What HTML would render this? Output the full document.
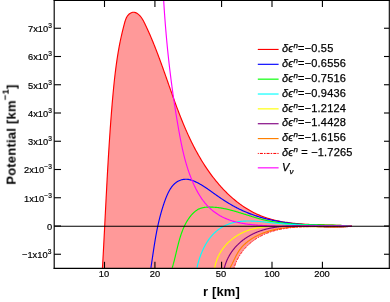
<!DOCTYPE html>
<html><head><meta charset="utf-8"><title>Potential</title>
<style>
html,body{margin:0;padding:0;background:#fff;}
body{width:390px;height:302px;position:relative;overflow:hidden;font-family:"Liberation Sans",sans-serif;color:#000;}
.t{position:absolute;white-space:nowrap;line-height:1;will-change:transform;}
.yl{font-size:9.3px;-webkit-text-stroke:0.2px #000;text-align:right;right:338.1px;}
.yl sup{font-size:6.6px;vertical-align:baseline;position:relative;top:-3.7px;letter-spacing:0;margin-left:0.2px;}
.xl{font-size:9.3px;-webkit-text-stroke:0.2px #000;transform:translateX(-50%);top:270.2px;margin-left:-0.4px;}
.lg{font-size:11px;left:281.9px;letter-spacing:0.2px;-webkit-text-stroke:0.25px #000;}
.lg i{font-style:italic;}
.lg sup{font-size:8px;font-style:italic;vertical-align:baseline;position:relative;top:-3.6px;}
.lg sub{font-size:8px;font-style:italic;vertical-align:baseline;position:relative;top:2.6px;}
.ax{font-weight:bold;font-size:13px;}
.ax sup{font-size:9.5px;vertical-align:baseline;position:relative;top:-7px;}
</style></head><body>
<svg width="390" height="302" viewBox="0 0 390 302" style="position:absolute;left:0;top:0">
<defs><clipPath id="c"><rect x="54.2" y="0.4" width="335.0" height="268.0"/></clipPath></defs>
<g clip-path="url(#c)" fill="none" stroke-linejoin="round">
<path d="M102.44,268.16 L102.53,266.66 L102.61,265.16 L102.70,263.67 L102.78,262.17 L102.87,260.67 L102.95,259.17 L103.03,257.67 L103.11,256.17 L103.20,254.67 L103.28,253.17 L103.36,251.67 L103.44,250.16 L103.52,248.66 L103.60,247.16 L103.68,245.66 L103.76,244.15 L103.84,242.65 L103.92,241.15 L104.00,239.64 L104.08,238.14 L104.16,236.64 L104.23,235.13 L104.31,233.63 L104.39,232.12 L104.47,230.62 L104.54,229.11 L104.62,227.61 L104.70,226.10 L104.77,224.60 L104.85,223.09 L104.93,221.58 L105.00,220.08 L105.08,218.57 L105.16,217.06 L105.23,215.56 L105.31,214.05 L105.39,212.54 L105.46,211.03 L105.54,209.53 L105.62,208.02 L105.70,206.51 L105.77,205.00 L105.85,203.50 L105.93,201.99 L106.00,200.48 L106.08,198.97 L106.16,197.46 L106.24,195.96 L106.32,194.45 L106.40,192.94 L106.48,191.43 L106.56,189.92 L106.63,188.41 L106.71,186.91 L106.80,185.40 L106.88,183.89 L106.96,182.38 L107.04,180.87 L107.12,179.36 L107.20,177.86 L107.29,176.35 L107.37,174.84 L107.45,173.33 L107.54,171.82 L107.62,170.32 L107.71,168.81 L107.79,167.30 L107.88,165.79 L107.97,164.28 L108.06,162.78 L108.14,161.27 L108.23,159.76 L108.32,158.26 L108.41,156.75 L108.50,155.24 L108.60,153.74 L108.69,152.23 L108.78,150.72 L108.88,149.22 L108.97,147.71 L109.07,146.21 L109.16,144.70 L109.26,143.20 L109.36,141.69 L109.46,140.19 L109.56,138.68 L109.66,137.18 L109.76,135.67 L109.86,134.17 L109.97,132.67 L110.07,131.16 L110.18,129.66 L110.28,128.16 L110.39,126.65 L110.50,125.15 L110.61,123.65 L110.72,122.15 L110.83,120.65 L110.95,119.15 L111.06,117.65 L111.18,116.15 L111.29,114.65 L111.41,113.15 L111.53,111.65 L111.65,110.15 L111.77,108.65 L111.89,107.16 L112.02,105.66 L112.14,104.16 L112.27,102.67 L112.40,101.17 L112.53,99.67 L112.66,98.18 L112.79,96.69 L112.92,95.19 L113.06,93.70 L113.20,92.20 L113.34,90.71 L113.48,89.22 L113.62,87.72 L113.77,86.23 L113.92,84.74 L114.08,83.25 L114.23,81.76 L114.39,80.27 L114.55,78.77 L114.72,77.28 L114.89,75.79 L115.07,74.30 L115.24,72.81 L115.43,71.32 L115.61,69.83 L115.80,68.34 L116.00,66.85 L116.20,65.36 L116.41,63.87 L116.62,62.38 L116.83,60.89 L117.05,59.39 L117.28,57.90 L117.51,56.41 L117.75,54.92 L118.00,53.43 L118.25,51.94 L118.51,50.45 L118.77,48.95 L119.04,47.46 L119.32,45.97 L119.60,44.48 L119.89,42.98 L120.19,41.49 L120.50,39.99 L120.81,38.50 L121.14,37.00 L121.46,35.51 L121.80,34.01 L122.15,32.52 L122.50,31.02 L122.87,29.52 L123.24,28.02 L123.62,26.53 L124.01,25.03 L124.41,23.53 L124.82,22.03 L125.28,20.57 L125.79,19.15 L126.38,17.79 L127.08,16.52 L127.90,15.36 L128.86,14.32 L129.99,13.43 L131.30,12.72 L132.72,12.28 L134.17,12.24 L135.58,12.62 L136.92,13.29 L138.14,14.12 L139.25,15.07 L140.26,16.11 L141.17,17.25 L142.01,18.46 L142.79,19.73 L143.52,21.04 L144.22,22.39 L144.89,23.76 L145.54,25.13 L146.19,26.51 L146.84,27.89 L147.47,29.27 L148.10,30.66 L148.72,32.05 L149.34,33.44 L149.95,34.83 L150.55,36.22 L151.15,37.62 L151.74,39.02 L152.32,40.42 L152.90,41.82 L153.47,43.23 L154.04,44.63 L154.61,46.04 L155.17,47.45 L155.72,48.86 L156.27,50.27 L156.82,51.68 L157.36,53.10 L157.90,54.51 L158.43,55.93 L158.96,57.35 L159.49,58.77 L160.01,60.19 L160.53,61.61 L161.05,63.03 L161.57,64.45 L162.08,65.87 L162.59,67.30 L163.10,68.72 L163.61,70.14 L164.12,71.57 L164.62,72.99 L165.12,74.42 L165.63,75.84 L166.13,77.27 L166.63,78.69 L167.13,80.12 L167.63,81.54 L168.12,82.97 L168.62,84.39 L169.12,85.82 L169.62,87.24 L170.12,88.66 L170.62,90.09 L171.13,91.51 L171.63,92.93 L172.13,94.35 L172.64,95.77 L173.15,97.19 L173.65,98.61 L174.17,100.02 L174.68,101.44 L175.19,102.85 L175.71,104.26 L176.23,105.68 L176.76,107.09 L177.28,108.49 L177.82,109.90 L178.35,111.31 L178.89,112.71 L179.43,114.11 L179.97,115.51 L180.52,116.91 L181.08,118.30 L181.63,119.70 L182.20,121.09 L182.77,122.48 L183.34,123.87 L183.92,125.25 L184.50,126.63 L185.09,128.01 L185.69,129.39 L186.29,130.76 L186.90,132.14 L187.51,133.50 L188.13,134.87 L188.76,136.23 L189.40,137.59 L190.04,138.95 L190.69,140.30 L191.34,141.66 L192.01,143.00 L192.68,144.35 L193.36,145.69 L194.05,147.02 L194.75,148.36 L195.45,149.69 L196.17,151.01 L196.89,152.33 L197.63,153.65 L198.37,154.97 L199.12,156.28 L199.88,157.58 L200.65,158.89 L201.43,160.18 L202.23,161.48 L203.03,162.77 L203.84,164.05 L204.66,165.33 L205.50,166.60 L206.34,167.87 L207.19,169.13 L208.06,170.38 L208.93,171.63 L209.81,172.87 L210.71,174.10 L211.62,175.32 L212.53,176.54 L213.46,177.75 L214.39,178.94 L215.34,180.13 L216.30,181.31 L217.27,182.48 L218.25,183.64 L219.24,184.79 L220.24,185.92 L221.25,187.05 L222.27,188.16 L223.30,189.27 L224.34,190.36 L225.39,191.43 L226.46,192.50 L227.53,193.55 L228.61,194.59 L229.71,195.61 L230.82,196.62 L231.93,197.61 L233.06,198.59 L234.20,199.56 L235.35,200.51 L236.51,201.44 L237.68,202.36 L238.86,203.26 L240.05,204.14 L241.25,205.01 L242.47,205.86 L243.69,206.69 L244.93,207.50 L246.17,208.29 L247.43,209.07 L248.70,209.83 L249.97,210.56 L251.26,211.28 L252.56,211.97 L253.88,212.65 L255.20,213.31 L256.53,213.94 L257.88,214.55 L259.23,215.14 L260.60,215.71 L261.98,216.26 L263.36,216.78 L264.76,217.28 L266.17,217.76 L267.59,218.21 L269.02,218.65 L270.46,219.07 L271.91,219.46 L273.37,219.84 L274.83,220.19 L276.30,220.53 L277.78,220.85 L279.27,221.16 L280.76,221.45 L282.26,221.72 L283.77,221.97 L285.28,222.21 L286.80,222.44 L288.32,222.65 L289.85,222.85 L291.38,223.03 L292.91,223.21 L294.45,223.37 L295.99,223.52 L297.53,223.66 L299.08,223.79 L300.62,223.91 L302.17,224.02 L303.72,224.12 L305.27,224.22 L306.82,224.30 L308.37,224.38 L309.92,224.46 L311.47,224.52 L313.02,224.59 L314.57,224.64 L316.11,224.70 L317.66,224.75 L319.20,224.79 L320.73,224.84 L322.27,224.88 L323.80,224.92 L325.32,224.96 L326.85,225.00 L328.36,225.04 L329.87,225.08 L331.38,225.12 L332.88,225.16 L334.37,225.21 L335.86,225.26 L337.34,225.31 L338.81,225.36 L340.28,225.42 L341.73,225.49 L343.18,225.56 L344.62,225.64 L346.05,225.72 L347.47,225.81 L348.88,225.91 L350.28,226.01 L351.67,226.13 L351.80,226.24 L351.49,226.26 L351.19,226.28 L350.88,226.30 L350.57,226.32 L350.27,226.34 L349.96,226.35 L349.65,226.37 L349.34,226.39 L349.03,226.40 L348.72,226.42 L348.40,226.43 L348.09,226.45 L347.78,226.46 L347.47,226.48 L347.15,226.49 L346.84,226.50 L346.52,226.51 L346.20,226.52 L345.89,226.54 L345.57,226.55 L345.25,226.56 L344.93,226.56 L344.61,226.57 L344.29,226.58 L343.97,226.59 L343.65,226.60 L343.33,226.60 L343.00,226.61 L342.68,226.62 L342.36,226.62 L342.03,226.63 L341.71,226.63 L341.38,226.64 L341.06,226.64 L340.73,226.65 L340.41,226.65 L340.08,226.65 L339.75,226.66 L339.42,226.66 L339.09,226.66 L338.76,226.66 L338.43,226.67 L338.10,226.67 L337.77,226.67 L337.44,226.67 L337.11,226.67 L336.78,226.67 L336.44,226.67 L336.11,226.67 L335.78,226.67 L335.44,226.67 L335.11,226.67 L334.77,226.67 L334.44,226.67 L334.10,226.66 L333.77,226.66 L333.43,226.66 L333.09,226.66 L332.76,226.66 L332.42,226.65 L332.08,226.65 L331.74,226.65 L331.40,226.65 L331.06,226.64 L330.72,226.64 L330.38,226.64 L330.04,226.63 L329.70,226.63 L329.36,226.63 L329.02,226.62 L328.68,226.62 L328.34,226.62 L327.99,226.61 L327.65,226.61 L327.31,226.60 L326.96,226.60 L326.62,226.60 L326.28,226.59 L325.93,226.59 L325.59,226.59 L325.24,226.58 L324.90,226.58 L324.55,226.57 L324.21,226.57 L323.86,226.57 L323.52,226.56 L323.17,226.56 L322.82,226.56 L322.48,226.55 L322.13,226.55 L321.78,226.55 L321.44,226.54 L321.09,226.54 L320.74,226.54 L320.39,226.54 L320.04,226.53 L319.70,226.53 L319.35,226.53 L319.00,226.53 L318.65,226.52 L318.30,226.52 L317.95,226.52 L317.60,226.52 L317.25,226.52 L316.90,226.52 L316.55,226.52 L316.20,226.52 L315.85,226.52 L315.50,226.52 L315.15,226.52 L314.80,226.52 L314.45,226.52 L314.10,226.52 L313.75,226.52 L313.40,226.52 L313.05,226.52 L312.70,226.53 L312.35,226.53 L312.00,226.53 L311.65,226.54 L311.30,226.54 L310.95,226.54 L310.60,226.55 L310.24,226.55 L309.89,226.56 L309.54,226.56 L309.19,226.57 L308.84,226.58 L308.49,226.58 L308.14,226.59 L307.79,226.60 L307.44,226.61 L307.08,226.61 L306.73,226.62 L306.38,226.63 L306.03,226.64 L305.68,226.65 L305.33,226.66 L304.98,226.68 L304.63,226.69 L304.28,226.70 L303.93,226.71 L303.58,226.73 L303.23,226.74 L302.88,226.75 L302.52,226.77 L302.17,226.78 L301.82,226.80 L301.47,226.82 L301.12,226.84 L300.78,226.85 L300.43,226.87 L300.08,226.89 L299.73,226.91 L299.38,226.93 L299.03,226.95 L298.68,226.97 L298.33,227.00 L297.98,227.02 L297.63,227.04 L297.29,227.07 L296.94,227.09 L296.59,227.12 L296.24,227.14 L295.90,227.17 L295.55,227.20 L295.20,227.23 L294.85,227.26 L294.51,227.29 L294.16,227.32 L293.82,227.35 L293.47,227.38 L293.12,227.42 L292.78,227.45 L292.43,227.48 L292.09,227.52 L291.74,227.56 L291.40,227.59 L291.06,227.63 L290.71,227.67 L290.37,227.71 L290.03,227.75 L289.68,227.79 L289.34,227.83 L289.00,227.88 L288.66,227.92 L288.31,227.97 L287.97,228.01 L287.63,228.06 L287.29,228.11 L286.95,228.16 L286.61,228.20 L286.27,228.26 L285.93,228.31 L285.60,228.36 L285.26,228.41 L284.92,228.47 L284.58,228.52 L284.24,228.58 L283.91,228.64 L283.57,228.69 L283.24,228.75 L282.90,228.81 L282.56,228.87 L282.23,228.94 L281.90,229.00 L281.56,229.07 L281.23,229.13 L280.90,229.20 L280.56,229.26 L280.23,229.33 L279.90,229.40 L279.57,229.47 L279.24,229.55 L278.91,229.62 L278.58,229.69 L278.25,229.77 L277.92,229.85 L277.59,229.92 L277.26,230.00 L276.94,230.08 L276.61,230.17 L276.29,230.25 L275.96,230.33 L275.63,230.42 L275.31,230.50 L274.99,230.59 L274.66,230.68 L274.34,230.77 L274.02,230.86 L273.70,230.95 L273.38,231.05 L273.06,231.14 L272.74,231.24 L272.42,231.33 L272.10,231.43 L271.78,231.53 L271.46,231.63 L271.15,231.74 L270.83,231.84 L270.51,231.95 L270.20,232.05 L269.89,232.16 L269.57,232.27 L269.26,232.38 L268.95,232.49 L268.64,232.61 L268.32,232.72 L268.01,232.84 L267.70,232.96 L267.40,233.08 L267.09,233.20 L266.78,233.32 L266.47,233.44 L266.17,233.57 L265.86,233.69 L265.56,233.82 L265.25,233.95 L264.95,234.08 L264.65,234.22 L264.35,234.35 L264.04,234.48 L263.74,234.62 L263.45,234.76 L263.15,234.90 L262.85,235.04 L262.55,235.19 L262.26,235.33 L261.96,235.48 L261.67,235.62 L261.37,235.77 L261.08,235.92 L260.79,236.08 L260.49,236.23 L260.20,236.39 L259.91,236.54 L259.63,236.70 L259.34,236.86 L259.05,237.03 L258.76,237.19 L258.48,237.36 L258.19,237.52 L257.91,237.69 L257.63,237.86 L257.34,238.04 L257.06,238.21 L256.78,238.39 L256.50,238.56 L256.22,238.74 L255.95,238.92 L255.67,239.11 L255.40,239.29 L255.12,239.48 L254.85,239.67 L254.57,239.85 L254.30,240.05 L254.03,240.24 L253.76,240.43 L253.49,240.63 L253.23,240.83 L252.96,241.03 L252.69,241.23 L252.43,241.43 L252.17,241.63 L251.91,241.84 L251.64,242.05 L251.39,242.26 L251.13,242.47 L250.87,242.68 L250.61,242.89 L250.36,243.11 L250.10,243.33 L249.85,243.55 L249.60,243.77 L249.35,243.99 L249.10,244.21 L248.85,244.44 L248.61,244.67 L248.36,244.90 L248.12,245.13 L247.88,245.36 L247.64,245.59 L247.40,245.83 L247.16,246.06 L246.92,246.30 L246.69,246.54 L246.45,246.78 L246.22,247.03 L245.99,247.27 L245.76,247.52 L245.53,247.77 L245.30,248.01 L245.08,248.27 L244.85,248.52 L244.63,248.77 L244.41,249.03 L244.19,249.28 L243.97,249.54 L243.76,249.80 L243.54,250.07 L243.33,250.33 L243.12,250.59 L242.91,250.86 L242.70,251.13 L242.49,251.40 L242.29,251.67 L242.08,251.94 L241.88,252.22 L241.68,252.49 L241.48,252.77 L241.28,253.05 L241.09,253.33 L240.89,253.61 L240.70,253.89 L240.51,254.18 L240.32,254.46 L240.14,254.75 L239.95,255.04 L239.77,255.33 L239.59,255.63 L239.41,255.92 L239.23,256.21 L239.05,256.51 L238.88,256.81 L238.71,257.11 L238.54,257.41 L238.37,257.71 L238.20,258.02 L238.04,258.32 L237.88,258.63 L237.71,258.94 L237.56,259.25 L237.40,259.56 L237.24,259.87 L237.09,260.19 L236.94,260.50 L236.79,260.82 L236.64,261.14 L236.50,261.46 L236.36,261.78 L236.22,262.10 L236.08,262.43 L235.94,262.75 L235.81,263.08 L235.67,263.41 L235.54,263.74 L235.41,264.07 L235.29,264.41 L235.16,264.74 L235.04,265.08 L234.92,265.41 L234.81,265.75 L234.69,266.09 L234.58,266.43 L234.47,266.78 L234.36,267.12 L234.25,267.47 L234.15,267.81 L234.05,268.16Z" fill="#ff9999" stroke="none"/>
<path d="M102.44,268.16 L102.53,266.66 L102.61,265.16 L102.70,263.67 L102.78,262.17 L102.87,260.67 L102.95,259.17 L103.03,257.67 L103.11,256.17 L103.20,254.67 L103.28,253.17 L103.36,251.67 L103.44,250.16 L103.52,248.66 L103.60,247.16 L103.68,245.66 L103.76,244.15 L103.84,242.65 L103.92,241.15 L104.00,239.64 L104.08,238.14 L104.16,236.64 L104.23,235.13 L104.31,233.63 L104.39,232.12 L104.47,230.62 L104.54,229.11 L104.62,227.61 L104.70,226.10 L104.77,224.60 L104.85,223.09 L104.93,221.58 L105.00,220.08 L105.08,218.57 L105.16,217.06 L105.23,215.56 L105.31,214.05 L105.39,212.54 L105.46,211.03 L105.54,209.53 L105.62,208.02 L105.70,206.51 L105.77,205.00 L105.85,203.50 L105.93,201.99 L106.00,200.48 L106.08,198.97 L106.16,197.46 L106.24,195.96 L106.32,194.45 L106.40,192.94 L106.48,191.43 L106.56,189.92 L106.63,188.41 L106.71,186.91 L106.80,185.40 L106.88,183.89 L106.96,182.38 L107.04,180.87 L107.12,179.36 L107.20,177.86 L107.29,176.35 L107.37,174.84 L107.45,173.33 L107.54,171.82 L107.62,170.32 L107.71,168.81 L107.79,167.30 L107.88,165.79 L107.97,164.28 L108.06,162.78 L108.14,161.27 L108.23,159.76 L108.32,158.26 L108.41,156.75 L108.50,155.24 L108.60,153.74 L108.69,152.23 L108.78,150.72 L108.88,149.22 L108.97,147.71 L109.07,146.21 L109.16,144.70 L109.26,143.20 L109.36,141.69 L109.46,140.19 L109.56,138.68 L109.66,137.18 L109.76,135.67 L109.86,134.17 L109.97,132.67 L110.07,131.16 L110.18,129.66 L110.28,128.16 L110.39,126.65 L110.50,125.15 L110.61,123.65 L110.72,122.15 L110.83,120.65 L110.95,119.15 L111.06,117.65 L111.18,116.15 L111.29,114.65 L111.41,113.15 L111.53,111.65 L111.65,110.15 L111.77,108.65 L111.89,107.16 L112.02,105.66 L112.14,104.16 L112.27,102.67 L112.40,101.17 L112.53,99.67 L112.66,98.18 L112.79,96.69 L112.92,95.19 L113.06,93.70 L113.20,92.20 L113.34,90.71 L113.48,89.22 L113.62,87.72 L113.77,86.23 L113.92,84.74 L114.08,83.25 L114.23,81.76 L114.39,80.27 L114.55,78.77 L114.72,77.28 L114.89,75.79 L115.07,74.30 L115.24,72.81 L115.43,71.32 L115.61,69.83 L115.80,68.34 L116.00,66.85 L116.20,65.36 L116.41,63.87 L116.62,62.38 L116.83,60.89 L117.05,59.39 L117.28,57.90 L117.51,56.41 L117.75,54.92 L118.00,53.43 L118.25,51.94 L118.51,50.45 L118.77,48.95 L119.04,47.46 L119.32,45.97 L119.60,44.48 L119.89,42.98 L120.19,41.49 L120.50,39.99 L120.81,38.50 L121.14,37.00 L121.46,35.51 L121.80,34.01 L122.15,32.52 L122.50,31.02 L122.87,29.52 L123.24,28.02 L123.62,26.53 L124.01,25.03 L124.41,23.53 L124.82,22.03 L125.28,20.57 L125.79,19.15 L126.38,17.79 L127.08,16.52 L127.90,15.36 L128.86,14.32 L129.99,13.43 L131.30,12.72 L132.72,12.28 L134.17,12.24 L135.58,12.62 L136.92,13.29 L138.14,14.12 L139.25,15.07 L140.26,16.11 L141.17,17.25 L142.01,18.46 L142.79,19.73 L143.52,21.04 L144.22,22.39 L144.89,23.76 L145.54,25.13 L146.19,26.51 L146.84,27.89 L147.47,29.27 L148.10,30.66 L148.72,32.05 L149.34,33.44 L149.95,34.83 L150.55,36.22 L151.15,37.62 L151.74,39.02 L152.32,40.42 L152.90,41.82 L153.47,43.23 L154.04,44.63 L154.61,46.04 L155.17,47.45 L155.72,48.86 L156.27,50.27 L156.82,51.68 L157.36,53.10 L157.90,54.51 L158.43,55.93 L158.96,57.35 L159.49,58.77 L160.01,60.19 L160.53,61.61 L161.05,63.03 L161.57,64.45 L162.08,65.87 L162.59,67.30 L163.10,68.72 L163.61,70.14 L164.12,71.57 L164.62,72.99 L165.12,74.42 L165.63,75.84 L166.13,77.27 L166.63,78.69 L167.13,80.12 L167.63,81.54 L168.12,82.97 L168.62,84.39 L169.12,85.82 L169.62,87.24 L170.12,88.66 L170.62,90.09 L171.13,91.51 L171.63,92.93 L172.13,94.35 L172.64,95.77 L173.15,97.19 L173.65,98.61 L174.17,100.02 L174.68,101.44 L175.19,102.85 L175.71,104.26 L176.23,105.68 L176.76,107.09 L177.28,108.49 L177.82,109.90 L178.35,111.31 L178.89,112.71 L179.43,114.11 L179.97,115.51 L180.52,116.91 L181.08,118.30 L181.63,119.70 L182.20,121.09 L182.77,122.48 L183.34,123.87 L183.92,125.25 L184.50,126.63 L185.09,128.01 L185.69,129.39 L186.29,130.76 L186.90,132.14 L187.51,133.50 L188.13,134.87 L188.76,136.23 L189.40,137.59 L190.04,138.95 L190.69,140.30 L191.34,141.66 L192.01,143.00 L192.68,144.35 L193.36,145.69 L194.05,147.02 L194.75,148.36 L195.45,149.69 L196.17,151.01 L196.89,152.33 L197.63,153.65 L198.37,154.97 L199.12,156.28 L199.88,157.58 L200.65,158.89 L201.43,160.18 L202.23,161.48 L203.03,162.77 L203.84,164.05 L204.66,165.33 L205.50,166.60 L206.34,167.87 L207.19,169.13 L208.06,170.38 L208.93,171.63 L209.81,172.87 L210.71,174.10 L211.62,175.32 L212.53,176.54 L213.46,177.75 L214.39,178.94 L215.34,180.13 L216.30,181.31 L217.27,182.48 L218.25,183.64 L219.24,184.79 L220.24,185.92 L221.25,187.05 L222.27,188.16 L223.30,189.27 L224.34,190.36 L225.39,191.43 L226.46,192.50 L227.53,193.55 L228.61,194.59 L229.71,195.61 L230.82,196.62 L231.93,197.61 L233.06,198.59 L234.20,199.56 L235.35,200.51 L236.51,201.44 L237.68,202.36 L238.86,203.26 L240.05,204.14 L241.25,205.01 L242.47,205.86 L243.69,206.69 L244.93,207.50 L246.17,208.29 L247.43,209.07 L248.70,209.83 L249.97,210.56 L251.26,211.28 L252.56,211.97 L253.88,212.65 L255.20,213.31 L256.53,213.94 L257.88,214.55 L259.23,215.14 L260.60,215.71 L261.98,216.26 L263.36,216.78 L264.76,217.28 L266.17,217.76 L267.59,218.21 L269.02,218.65 L270.46,219.07 L271.91,219.46 L273.37,219.84 L274.83,220.19 L276.30,220.53 L277.78,220.85 L279.27,221.16 L280.76,221.45 L282.26,221.72 L283.77,221.97 L285.28,222.21 L286.80,222.44 L288.32,222.65 L289.85,222.85 L291.38,223.03 L292.91,223.21 L294.45,223.37 L295.99,223.52 L297.53,223.66 L299.08,223.79 L300.62,223.91 L302.17,224.02 L303.72,224.12 L305.27,224.22 L306.82,224.30 L308.37,224.38 L309.92,224.46 L311.47,224.52 L313.02,224.59 L314.57,224.64 L316.11,224.70 L317.66,224.75 L319.20,224.79 L320.73,224.84 L322.27,224.88 L323.80,224.92 L325.32,224.96 L326.85,225.00 L328.36,225.04 L329.87,225.08 L331.38,225.12 L332.88,225.16 L334.37,225.21 L335.86,225.26 L337.34,225.31 L338.81,225.36 L340.28,225.42 L341.73,225.49 L343.18,225.56 L344.62,225.64 L346.05,225.72 L347.47,225.81 L348.88,225.91 L350.28,226.01 L351.67,226.13" stroke="#ff0000" stroke-width="1.15"/>
<path d="M150.91,267.89 L151.02,267.17 L151.13,266.45 L151.24,265.73 L151.34,265.02 L151.45,264.31 L151.56,263.60 L151.66,262.89 L151.77,262.18 L151.87,261.48 L151.98,260.77 L152.08,260.07 L152.18,259.37 L152.29,258.67 L152.39,257.97 L152.49,257.27 L152.60,256.58 L152.70,255.88 L152.80,255.19 L152.90,254.50 L153.01,253.81 L153.11,253.12 L153.21,252.43 L153.31,251.74 L153.42,251.05 L153.52,250.37 L153.62,249.68 L153.73,249.00 L153.83,248.32 L153.94,247.64 L154.04,246.96 L154.15,246.28 L154.25,245.60 L154.36,244.92 L154.47,244.24 L154.58,243.57 L154.68,242.89 L154.79,242.22 L154.90,241.54 L155.02,240.87 L155.13,240.20 L155.24,239.52 L155.36,238.85 L155.47,238.18 L155.59,237.51 L155.70,236.84 L155.82,236.17 L155.94,235.50 L156.06,234.83 L156.19,234.16 L156.31,233.49 L156.44,232.82 L156.56,232.15 L156.69,231.48 L156.82,230.82 L156.95,230.15 L157.09,229.48 L157.22,228.81 L157.36,228.14 L157.50,227.48 L157.64,226.81 L157.78,226.14 L157.92,225.47 L158.07,224.80 L158.22,224.14 L158.37,223.47 L158.52,222.80 L158.68,222.13 L158.83,221.46 L158.99,220.79 L159.15,220.12 L159.32,219.45 L159.48,218.78 L159.65,218.11 L159.82,217.44 L160.00,216.76 L160.17,216.09 L160.35,215.42 L160.53,214.74 L160.72,214.07 L160.90,213.40 L161.09,212.72 L161.28,212.04 L161.48,211.37 L161.68,210.69 L161.88,210.01 L162.08,209.33 L162.29,208.65 L162.50,207.97 L162.71,207.28 L162.93,206.60 L163.15,205.92 L163.37,205.23 L163.60,204.54 L163.83,203.86 L164.06,203.17 L164.30,202.48 L164.54,201.79 L164.79,201.10 L165.03,200.40 L165.29,199.71 L165.54,199.02 L165.81,198.33 L166.07,197.65 L166.35,196.96 L166.62,196.29 L166.91,195.61 L167.20,194.94 L167.50,194.27 L167.80,193.62 L168.11,192.96 L168.43,192.32 L168.76,191.68 L169.10,191.05 L169.44,190.43 L169.79,189.83 L170.15,189.23 L170.52,188.64 L170.90,188.06 L171.29,187.50 L171.70,186.95 L172.11,186.41 L172.53,185.89 L172.96,185.38 L173.40,184.89 L173.86,184.41 L174.33,183.96 L174.81,183.51 L175.30,183.09 L175.81,182.68 L176.32,182.30 L176.86,181.93 L177.40,181.59 L177.96,181.26 L178.53,180.96 L179.12,180.68 L179.73,180.42 L180.34,180.19 L180.98,179.98 L181.62,179.80 L182.28,179.64 L182.94,179.50 L183.62,179.40 L184.30,179.32 L184.98,179.26 L185.67,179.24 L186.36,179.24 L187.06,179.28 L187.75,179.34 L188.44,179.44 L189.12,179.56 L189.81,179.71 L190.48,179.88 L191.16,180.08 L191.83,180.29 L192.50,180.53 L193.16,180.77 L193.82,181.04 L194.47,181.31 L195.12,181.60 L195.76,181.89 L196.39,182.19 L197.02,182.50 L197.65,182.81 L198.27,183.13 L198.88,183.46 L199.49,183.79 L200.10,184.13 L200.70,184.48 L201.30,184.83 L201.90,185.18 L202.49,185.54 L203.08,185.91 L203.66,186.28 L204.24,186.65 L204.82,187.03 L205.40,187.41 L205.97,187.80 L206.55,188.18 L207.12,188.58 L207.69,188.97 L208.26,189.37 L208.82,189.76 L209.39,190.17 L209.96,190.57 L210.52,190.97 L211.09,191.38 L211.65,191.78 L212.21,192.19 L212.78,192.60 L213.34,193.00 L213.91,193.41 L214.48,193.82 L215.04,194.22 L215.61,194.63 L216.18,195.03 L216.76,195.43 L217.33,195.84 L217.91,196.24 L218.48,196.64 L219.06,197.03 L219.64,197.43 L220.22,197.83 L220.80,198.22 L221.39,198.61 L221.97,199.00 L222.56,199.39 L223.15,199.77 L223.74,200.16 L224.33,200.54 L224.92,200.92 L225.52,201.30 L226.11,201.67 L226.71,202.04 L227.31,202.41 L227.91,202.78 L228.51,203.15 L229.11,203.51 L229.71,203.87 L230.32,204.23 L230.93,204.58 L231.53,204.93 L232.14,205.28 L232.75,205.63 L233.37,205.97 L233.98,206.31 L234.59,206.64 L235.21,206.97 L235.83,207.30 L236.45,207.63 L237.07,207.95 L237.69,208.27 L238.31,208.58 L238.93,208.89 L239.56,209.20 L240.19,209.50 L240.81,209.80 L241.44,210.10 L242.07,210.39 L242.70,210.68 L243.34,210.96 L243.97,211.24 L244.61,211.52 L245.24,211.79 L245.88,212.06 L246.52,212.33 L247.16,212.59 L247.80,212.85 L248.44,213.10 L249.09,213.36 L249.73,213.61 L250.38,213.85 L251.02,214.09 L251.67,214.33 L252.32,214.57 L252.97,214.80 L253.62,215.03 L254.27,215.25 L254.92,215.48 L255.58,215.70 L256.23,215.91 L256.89,216.12 L257.54,216.33 L258.20,216.54 L258.86,216.74 L259.52,216.94 L260.18,217.14 L260.84,217.34 L261.51,217.53 L262.17,217.72 L262.83,217.90 L263.50,218.08 L264.16,218.26 L264.83,218.44 L265.50,218.61 L266.17,218.78 L266.84,218.95 L267.51,219.12 L268.18,219.28 L268.85,219.44 L269.52,219.60 L270.20,219.75 L270.87,219.91 L271.54,220.05 L272.22,220.20 L272.90,220.35 L273.57,220.49 L274.25,220.63 L274.93,220.76 L275.61,220.90 L276.29,221.03 L276.97,221.16 L277.65,221.28 L278.33,221.41 L279.01,221.53 L279.70,221.65 L280.38,221.77 L281.06,221.88 L281.75,221.99 L282.43,222.11 L283.12,222.21 L283.80,222.32 L284.49,222.42 L285.18,222.53 L285.87,222.63 L286.55,222.72 L287.24,222.82 L287.93,222.91 L288.62,223.00 L289.31,223.09 L290.00,223.18 L290.69,223.26 L291.39,223.35 L292.08,223.43 L292.77,223.51 L293.46,223.59 L294.16,223.66 L294.85,223.74 L295.54,223.81 L296.24,223.88 L296.93,223.95 L297.63,224.02 L298.32,224.08 L299.02,224.15 L299.71,224.21 L300.41,224.27 L301.11,224.33 L301.80,224.38 L302.50,224.44 L303.20,224.49 L303.89,224.55 L304.59,224.60 L305.29,224.65 L305.99,224.70 L306.68,224.74 L307.38,224.79 L308.08,224.83 L308.78,224.88 L309.48,224.92 L310.18,224.96 L310.87,225.00 L311.57,225.04 L312.27,225.07 L312.97,225.11 L313.67,225.14 L314.37,225.17 L315.07,225.21 L315.77,225.24 L316.47,225.27 L317.17,225.30 L317.87,225.32 L318.57,225.35 L319.26,225.38 L319.96,225.40 L320.66,225.43 L321.36,225.45 L322.06,225.47 L322.76,225.49 L323.46,225.51 L324.16,225.53 L324.86,225.55 L325.55,225.57 L326.25,225.59 L326.95,225.60 L327.65,225.62 L328.35,225.63 L329.04,225.65 L329.74,225.66 L330.44,225.68 L331.14,225.69 L331.83,225.70 L332.53,225.71 L333.23,225.73 L333.92,225.74 L334.62,225.75 L335.31,225.76 L336.01,225.77 L336.70,225.78 L337.40,225.78 L338.09,225.79 L338.79,225.80 L339.48,225.81 L340.18,225.82 L340.87,225.83 L341.56,225.83 L342.25,225.84 L342.94,225.85 L343.64,225.85 L344.33,225.86 L345.02,225.87 L345.71,225.87 L346.40,225.88 L347.09,225.89 L347.78,225.89 L348.46,225.90 L349.15,225.91 L349.84,225.91 L350.52,225.92 L351.21,225.93 L351.90,225.94" stroke="#0000ff" stroke-width="1.15"/>
<path d="M172.23,267.72 L172.38,267.22 L172.54,266.72 L172.69,266.22 L172.84,265.72 L172.99,265.22 L173.13,264.71 L173.28,264.20 L173.42,263.68 L173.57,263.17 L173.71,262.65 L173.85,262.13 L173.98,261.61 L174.12,261.09 L174.26,260.56 L174.39,260.03 L174.53,259.50 L174.66,258.97 L174.79,258.44 L174.92,257.90 L175.05,257.37 L175.18,256.83 L175.31,256.29 L175.44,255.75 L175.57,255.21 L175.70,254.67 L175.83,254.12 L175.96,253.58 L176.09,253.03 L176.22,252.48 L176.35,251.94 L176.48,251.39 L176.61,250.84 L176.74,250.29 L176.87,249.74 L177.01,249.19 L177.14,248.63 L177.27,248.08 L177.41,247.53 L177.54,246.98 L177.68,246.43 L177.82,245.87 L177.96,245.32 L178.10,244.77 L178.24,244.22 L178.38,243.66 L178.52,243.11 L178.67,242.56 L178.82,242.01 L178.97,241.46 L179.12,240.91 L179.27,240.36 L179.43,239.81 L179.59,239.26 L179.75,238.71 L179.91,238.17 L180.07,237.62 L180.24,237.08 L180.41,236.54 L180.58,235.99 L180.76,235.45 L180.93,234.91 L181.11,234.38 L181.30,233.84 L181.48,233.30 L181.67,232.77 L181.86,232.24 L182.06,231.71 L182.26,231.18 L182.46,230.65 L182.67,230.13 L182.88,229.61 L183.09,229.09 L183.31,228.57 L183.53,228.05 L183.75,227.54 L183.98,227.03 L184.22,226.52 L184.45,226.01 L184.69,225.51 L184.94,225.01 L185.19,224.51 L185.44,224.02 L185.70,223.52 L185.97,223.03 L186.24,222.55 L186.51,222.06 L186.79,221.58 L187.07,221.11 L187.36,220.63 L187.65,220.16 L187.95,219.69 L188.25,219.23 L188.56,218.77 L188.88,218.31 L189.20,217.86 L189.52,217.41 L189.86,216.97 L190.19,216.53 L190.54,216.09 L190.89,215.66 L191.24,215.24 L191.60,214.82 L191.97,214.41 L192.34,214.00 L192.72,213.61 L193.11,213.22 L193.50,212.84 L193.90,212.47 L194.30,212.10 L194.71,211.75 L195.13,211.41 L195.55,211.08 L195.98,210.76 L196.42,210.45 L196.86,210.16 L197.31,209.87 L197.77,209.60 L198.23,209.35 L198.70,209.10 L199.18,208.88 L199.66,208.66 L200.15,208.46 L200.65,208.28 L201.15,208.11 L201.67,207.96 L202.18,207.83 L202.71,207.70 L203.24,207.59 L203.77,207.49 L204.31,207.41 L204.85,207.33 L205.39,207.27 L205.94,207.22 L206.49,207.17 L207.04,207.14 L207.59,207.11 L208.15,207.09 L208.70,207.08 L209.26,207.07 L209.81,207.07 L210.37,207.07 L210.92,207.08 L211.47,207.10 L212.02,207.11 L212.58,207.14 L213.13,207.17 L213.68,207.20 L214.23,207.24 L214.78,207.28 L215.33,207.32 L215.88,207.37 L216.43,207.43 L216.97,207.49 L217.52,207.55 L218.07,207.61 L218.62,207.69 L219.16,207.76 L219.71,207.84 L220.25,207.92 L220.80,208.00 L221.34,208.09 L221.89,208.19 L222.43,208.28 L222.98,208.38 L223.52,208.48 L224.06,208.59 L224.61,208.70 L225.15,208.81 L225.69,208.92 L226.23,209.04 L226.77,209.16 L227.31,209.29 L227.85,209.41 L228.40,209.54 L228.94,209.67 L229.48,209.80 L230.02,209.94 L230.55,210.08 L231.09,210.22 L231.63,210.36 L232.17,210.50 L232.71,210.65 L233.25,210.80 L233.79,210.95 L234.33,211.10 L234.86,211.25 L235.40,211.40 L235.94,211.56 L236.48,211.72 L237.01,211.88 L237.55,212.04 L238.09,212.20 L238.63,212.36 L239.16,212.52 L239.70,212.69 L240.24,212.85 L240.77,213.02 L241.31,213.19 L241.85,213.35 L242.38,213.52 L242.92,213.69 L243.46,213.86 L243.99,214.03 L244.53,214.20 L245.07,214.37 L245.60,214.54 L246.14,214.71 L246.67,214.88 L247.21,215.05 L247.75,215.22 L248.28,215.39 L248.82,215.56 L249.36,215.73 L249.90,215.90 L250.43,216.07 L250.97,216.23 L251.51,216.40 L252.04,216.57 L252.58,216.73 L253.12,216.89 L253.66,217.06 L254.19,217.22 L254.73,217.38 L255.27,217.54 L255.81,217.70 L256.35,217.86 L256.89,218.01 L257.43,218.17 L257.96,218.32 L258.50,218.47 L259.04,218.62 L259.58,218.76 L260.12,218.91 L260.66,219.05 L261.20,219.19 L261.75,219.33 L262.29,219.47 L262.83,219.60 L263.37,219.74 L263.91,219.87 L264.45,219.99 L265.00,220.12 L265.54,220.24 L266.08,220.36 L266.63,220.48 L267.17,220.60 L267.71,220.71 L268.26,220.82 L268.80,220.93 L269.35,221.04 L269.89,221.15 L270.44,221.25 L270.99,221.35 L271.53,221.45 L272.08,221.55 L272.62,221.64 L273.17,221.73 L273.72,221.83 L274.27,221.91 L274.81,222.00 L275.36,222.09 L275.91,222.17 L276.46,222.25 L277.01,222.33 L277.55,222.41 L278.10,222.49 L278.65,222.56 L279.20,222.64 L279.75,222.71 L280.30,222.78 L280.85,222.84 L281.40,222.91 L281.95,222.98 L282.50,223.04 L283.05,223.10 L283.60,223.16 L284.15,223.22 L284.71,223.28 L285.26,223.33 L285.81,223.39 L286.36,223.44 L286.91,223.49 L287.46,223.54 L288.02,223.59 L288.57,223.64 L289.12,223.68 L289.68,223.73 L290.23,223.77 L290.78,223.81 L291.34,223.85 L291.89,223.89 L292.44,223.93 L293.00,223.97 L293.55,224.00 L294.10,224.04 L294.66,224.07 L295.21,224.11 L295.77,224.14 L296.32,224.17 L296.88,224.20 L297.43,224.23 L297.99,224.26 L298.54,224.28 L299.10,224.31 L299.65,224.34 L300.21,224.36 L300.76,224.38 L301.32,224.41 L301.87,224.43 L302.43,224.45 L302.99,224.47 L303.54,224.49 L304.10,224.51 L304.65,224.53 L305.21,224.55 L305.77,224.56 L306.32,224.58 L306.88,224.60 L307.44,224.61 L307.99,224.63 L308.55,224.64 L309.10,224.66 L309.66,224.67 L310.22,224.68 L310.78,224.70 L311.33,224.71 L311.89,224.72 L312.45,224.73 L313.00,224.74 L313.56,224.75 L314.12,224.77 L314.67,224.78 L315.23,224.79 L315.79,224.80 L316.34,224.81 L316.90,224.82 L317.46,224.83 L318.02,224.83 L318.57,224.84 L319.13,224.85 L319.69,224.86 L320.24,224.87 L320.80,224.88 L321.36,224.89 L321.92,224.90 L322.47,224.91 L323.03,224.92 L323.59,224.93 L324.14,224.94 L324.70,224.95 L325.26,224.96 L325.82,224.97 L326.37,224.98 L326.93,224.99 L327.49,225.00 L328.04,225.01 L328.60,225.02 L329.16,225.03 L329.71,225.05 L330.27,225.06 L330.83,225.07 L331.38,225.09 L331.94,225.10 L332.49,225.11 L333.05,225.13 L333.61,225.14 L334.16,225.16 L334.72,225.18 L335.27,225.19 L335.83,225.21 L336.39,225.23 L336.94,225.25 L337.50,225.27 L338.05,225.29 L338.61,225.31 L339.16,225.33 L339.72,225.35 L340.27,225.38 L340.83,225.40 L341.38,225.43 L341.94,225.45 L342.49,225.48 L343.05,225.51 L343.60,225.54 L344.16,225.57 L344.71,225.60 L345.26,225.63 L345.82,225.66 L346.37,225.70 L346.92,225.73 L347.48,225.77 L348.03,225.80 L348.58,225.84 L349.14,225.88 L349.69,225.92 L350.24,225.96 L350.79,226.01 L351.35,226.05 L351.90,226.10" stroke="#00ff00" stroke-width="1.15"/>
<path d="M196.92,267.84 L197.02,267.43 L197.11,267.01 L197.21,266.59 L197.31,266.17 L197.41,265.75 L197.52,265.33 L197.62,264.91 L197.73,264.48 L197.84,264.06 L197.96,263.63 L198.07,263.21 L198.19,262.78 L198.31,262.35 L198.43,261.92 L198.56,261.49 L198.69,261.06 L198.82,260.63 L198.95,260.20 L199.08,259.76 L199.22,259.33 L199.36,258.90 L199.50,258.47 L199.65,258.03 L199.79,257.60 L199.94,257.17 L200.10,256.73 L200.25,256.30 L200.41,255.87 L200.57,255.44 L200.73,255.00 L200.89,254.57 L201.06,254.14 L201.23,253.71 L201.40,253.28 L201.58,252.85 L201.75,252.42 L201.93,251.99 L202.12,251.57 L202.30,251.14 L202.49,250.71 L202.68,250.29 L202.87,249.87 L203.07,249.44 L203.27,249.02 L203.47,248.60 L203.67,248.18 L203.88,247.77 L204.09,247.35 L204.30,246.94 L204.51,246.52 L204.73,246.11 L204.95,245.70 L205.17,245.29 L205.40,244.89 L205.63,244.48 L205.86,244.08 L206.09,243.68 L206.33,243.28 L206.57,242.89 L206.81,242.49 L207.06,242.10 L207.30,241.71 L207.56,241.33 L207.81,240.94 L208.07,240.56 L208.33,240.18 L208.59,239.80 L208.85,239.43 L209.12,239.06 L209.39,238.69 L209.67,238.33 L209.94,237.96 L210.22,237.60 L210.51,237.25 L210.79,236.89 L211.08,236.54 L211.37,236.20 L211.67,235.85 L211.97,235.51 L212.27,235.18 L212.57,234.84 L212.88,234.51 L213.19,234.19 L213.50,233.87 L213.82,233.55 L214.14,233.23 L214.46,232.92 L214.79,232.62 L215.12,232.31 L215.45,232.01 L215.78,231.72 L216.12,231.43 L216.46,231.14 L216.80,230.86 L217.15,230.58 L217.49,230.30 L217.84,230.03 L218.20,229.76 L218.55,229.50 L218.91,229.24 L219.27,228.99 L219.64,228.73 L220.00,228.49 L220.37,228.24 L220.74,228.00 L221.11,227.77 L221.49,227.54 L221.86,227.31 L222.24,227.09 L222.62,226.87 L223.01,226.66 L223.39,226.45 L223.78,226.24 L224.17,226.04 L224.56,225.84 L224.95,225.65 L225.35,225.46 L225.74,225.28 L226.14,225.10 L226.54,224.92 L226.94,224.75 L227.35,224.58 L227.75,224.42 L228.16,224.26 L228.56,224.11 L228.97,223.96 L229.38,223.81 L229.80,223.67 L230.21,223.54 L230.62,223.40 L231.04,223.28 L231.46,223.15 L231.88,223.03 L232.30,222.92 L232.72,222.80 L233.14,222.70 L233.56,222.59 L233.99,222.49 L234.42,222.40 L234.84,222.30 L235.27,222.21 L235.70,222.13 L236.13,222.05 L236.56,221.97 L237.00,221.89 L237.43,221.82 L237.87,221.75 L238.30,221.69 L238.74,221.63 L239.18,221.57 L239.62,221.52 L240.06,221.46 L240.50,221.42 L240.94,221.37 L241.39,221.33 L241.83,221.29 L242.27,221.25 L242.72,221.22 L243.17,221.19 L243.61,221.16 L244.06,221.13 L244.51,221.11 L244.96,221.09 L245.41,221.07 L245.86,221.06 L246.31,221.04 L246.77,221.03 L247.22,221.03 L247.67,221.02 L248.13,221.02 L248.58,221.02 L249.04,221.02 L249.50,221.02 L249.95,221.03 L250.41,221.04 L250.87,221.05 L251.33,221.06 L251.79,221.07 L252.25,221.09 L252.71,221.10 L253.17,221.12 L253.63,221.14 L254.09,221.17 L254.55,221.19 L255.01,221.22 L255.47,221.24 L255.94,221.27 L256.40,221.30 L256.86,221.33 L257.33,221.37 L257.79,221.40 L258.25,221.44 L258.72,221.47 L259.18,221.51 L259.65,221.55 L260.11,221.59 L260.57,221.63 L261.04,221.67 L261.50,221.71 L261.97,221.76 L262.43,221.80 L262.90,221.85 L263.37,221.89 L263.83,221.94 L264.30,221.99 L264.76,222.03 L265.23,222.08 L265.69,222.13 L266.16,222.18 L266.62,222.23 L267.09,222.28 L267.55,222.33 L268.01,222.38 L268.48,222.43 L268.94,222.48 L269.41,222.53 L269.87,222.58 L270.33,222.63 L270.80,222.68 L271.26,222.73 L271.72,222.78 L272.18,222.83 L272.65,222.88 L273.11,222.93 L273.57,222.98 L274.03,223.03 L274.49,223.08 L274.95,223.13 L275.41,223.17 L275.87,223.22 L276.33,223.27 L276.79,223.31 L277.24,223.36 L277.70,223.40 L278.16,223.44 L278.61,223.49 L279.07,223.53 L279.52,223.57 L279.98,223.61 L280.43,223.65 L280.89,223.69 L281.34,223.73 L281.79,223.77 L282.25,223.81 L282.70,223.85 L283.15,223.88 L283.60,223.92 L284.05,223.96 L284.50,223.99 L284.95,224.03 L285.40,224.06 L285.85,224.09 L286.30,224.13 L286.75,224.16 L287.20,224.19 L287.65,224.22 L288.10,224.25 L288.54,224.28 L288.99,224.31 L289.44,224.34 L289.88,224.37 L290.33,224.40 L290.78,224.43 L291.22,224.46 L291.67,224.48 L292.11,224.51 L292.56,224.54 L293.00,224.56 L293.45,224.59 L293.89,224.61 L294.34,224.64 L294.78,224.66 L295.23,224.68 L295.67,224.71 L296.11,224.73 L296.56,224.75 L297.00,224.77 L297.44,224.80 L297.89,224.82 L298.33,224.84 L298.77,224.86 L299.21,224.88 L299.66,224.90 L300.10,224.92 L300.54,224.94 L300.98,224.95 L301.42,224.97 L301.87,224.99 L302.31,225.01 L302.75,225.02 L303.19,225.04 L303.63,225.06 L304.07,225.07 L304.51,225.09 L304.96,225.11 L305.40,225.12 L305.84,225.14 L306.28,225.15 L306.72,225.16 L307.16,225.18 L307.60,225.19 L308.04,225.21 L308.48,225.22 L308.93,225.23 L309.37,225.24 L309.81,225.26 L310.25,225.27 L310.69,225.28 L311.13,225.29 L311.57,225.31 L312.01,225.32 L312.46,225.33 L312.90,225.34 L313.34,225.35 L313.78,225.36 L314.22,225.37 L314.66,225.38 L315.11,225.39 L315.55,225.40 L315.99,225.41 L316.43,225.42 L316.88,225.43 L317.32,225.44 L317.76,225.45 L318.21,225.46 L318.65,225.46 L319.09,225.47 L319.54,225.48 L319.98,225.49 L320.42,225.50 L320.87,225.51 L321.31,225.51 L321.76,225.52 L322.20,225.53 L322.65,225.54 L323.09,225.55 L323.54,225.55 L323.98,225.56 L324.43,225.57 L324.88,225.58 L325.32,225.58 L325.77,225.59 L326.22,225.60 L326.66,225.61 L327.11,225.61 L327.56,225.62 L328.01,225.63 L328.46,225.63 L328.91,225.64 L329.36,225.65 L329.81,225.66 L330.26,225.66 L330.71,225.67 L331.16,225.68 L331.61,225.68 L332.06,225.69 L332.51,225.70 L332.97,225.71 L333.42,225.71 L333.87,225.72 L334.33,225.73 L334.78,225.74 L335.23,225.74 L335.69,225.75 L336.14,225.76 L336.60,225.77 L337.06,225.77 L337.51,225.78 L337.97,225.79 L338.43,225.80 L338.89,225.81 L339.35,225.82 L339.81,225.82 L340.26,225.83 L340.73,225.84 L341.19,225.85 L341.65,225.86 L342.11,225.87 L342.57,225.88 L343.03,225.89 L343.50,225.90 L343.96,225.91 L344.43,225.92 L344.89,225.93 L345.36,225.94 L345.82,225.95 L346.29,225.96 L346.76,225.97 L347.23,225.98 L347.70,225.99 L348.17,226.01 L348.64,226.02 L349.11,226.03 L349.58,226.04 L350.05,226.05 L350.52,226.07 L351.00,226.08 L351.47,226.09 L351.95,226.11" stroke="#00ffff" stroke-width="1.15"/>
<path d="M214.61,268.13 L214.69,267.71 L214.76,267.29 L214.85,266.87 L214.93,266.46 L215.02,266.04 L215.11,265.63 L215.21,265.22 L215.31,264.82 L215.41,264.41 L215.51,264.01 L215.62,263.61 L215.73,263.21 L215.85,262.81 L215.97,262.42 L216.09,262.02 L216.22,261.63 L216.34,261.24 L216.47,260.85 L216.61,260.47 L216.75,260.09 L216.89,259.70 L217.03,259.32 L217.18,258.95 L217.33,258.57 L217.48,258.20 L217.64,257.82 L217.80,257.45 L217.96,257.09 L218.12,256.72 L218.29,256.36 L218.46,255.99 L218.64,255.64 L218.81,255.28 L218.99,254.92 L219.17,254.57 L219.36,254.22 L219.55,253.87 L219.74,253.52 L219.93,253.17 L220.13,252.83 L220.33,252.49 L220.53,252.15 L220.73,251.81 L220.94,251.48 L221.15,251.14 L221.36,250.81 L221.58,250.48 L221.80,250.16 L222.02,249.83 L222.24,249.51 L222.46,249.19 L222.69,248.87 L222.92,248.55 L223.15,248.24 L223.39,247.93 L223.63,247.62 L223.87,247.31 L224.11,247.00 L224.35,246.70 L224.60,246.40 L224.85,246.10 L225.10,245.80 L225.36,245.51 L225.61,245.21 L225.87,244.92 L226.13,244.63 L226.40,244.35 L226.66,244.06 L226.93,243.78 L227.20,243.50 L227.47,243.23 L227.74,242.95 L228.02,242.68 L228.30,242.41 L228.58,242.14 L228.86,241.87 L229.14,241.61 L229.43,241.34 L229.72,241.09 L230.01,240.83 L230.30,240.57 L230.60,240.32 L230.89,240.07 L231.19,239.82 L231.49,239.57 L231.79,239.33 L232.09,239.09 L232.40,238.85 L232.71,238.61 L233.02,238.38 L233.33,238.15 L233.64,237.92 L233.95,237.69 L234.27,237.46 L234.59,237.24 L234.90,237.02 L235.23,236.80 L235.55,236.58 L235.87,236.37 L236.20,236.16 L236.52,235.95 L236.85,235.74 L237.18,235.54 L237.51,235.34 L237.85,235.14 L238.18,234.94 L238.52,234.74 L238.86,234.55 L239.19,234.36 L239.53,234.17 L239.88,233.99 L240.22,233.80 L240.56,233.62 L240.91,233.45 L241.26,233.27 L241.60,233.10 L241.95,232.93 L242.30,232.76 L242.66,232.59 L243.01,232.43 L243.36,232.27 L243.72,232.11 L244.07,231.95 L244.43,231.80 L244.79,231.65 L245.15,231.50 L245.51,231.35 L245.87,231.21 L246.24,231.06 L246.60,230.93 L246.96,230.79 L247.33,230.66 L247.70,230.52 L248.06,230.39 L248.43,230.27 L248.80,230.14 L249.17,230.02 L249.54,229.90 L249.92,229.79 L250.29,229.67 L250.66,229.56 L251.04,229.45 L251.41,229.34 L251.79,229.24 L252.16,229.14 L252.54,229.04 L252.92,228.94 L253.30,228.84 L253.68,228.75 L254.06,228.66 L254.44,228.57 L254.82,228.48 L255.20,228.39 L255.58,228.31 L255.97,228.23 L256.35,228.15 L256.73,228.07 L257.12,227.99 L257.50,227.92 L257.89,227.84 L258.28,227.77 L258.66,227.70 L259.05,227.64 L259.44,227.57 L259.83,227.51 L260.21,227.45 L260.60,227.38 L260.99,227.33 L261.38,227.27 L261.77,227.21 L262.16,227.16 L262.55,227.10 L262.94,227.05 L263.34,227.00 L263.73,226.95 L264.12,226.90 L264.51,226.86 L264.90,226.81 L265.30,226.77 L265.69,226.73 L266.08,226.69 L266.47,226.65 L266.87,226.61 L267.26,226.57 L267.65,226.53 L268.05,226.50 L268.44,226.46 L268.83,226.43 L269.23,226.39 L269.62,226.36 L270.02,226.33 L270.41,226.30 L270.80,226.27 L271.20,226.24 L271.59,226.22 L271.98,226.19 L272.38,226.16 L272.77,226.14 L273.17,226.11 L273.56,226.09 L273.95,226.07 L274.35,226.05 L274.74,226.03 L275.14,226.01 L275.53,225.99 L275.93,225.97 L276.32,225.95 L276.71,225.93 L277.11,225.92 L277.50,225.90 L277.90,225.89 L278.29,225.87 L278.69,225.86 L279.08,225.85 L279.47,225.84 L279.87,225.83 L280.26,225.82 L280.66,225.81 L281.05,225.80 L281.45,225.79 L281.84,225.78 L282.24,225.77 L282.63,225.77 L283.02,225.76 L283.42,225.76 L283.81,225.75 L284.21,225.75 L284.60,225.74 L285.00,225.74 L285.39,225.74 L285.79,225.74 L286.18,225.74 L286.58,225.74 L286.97,225.73 L287.37,225.74 L287.76,225.74 L288.16,225.74 L288.55,225.74 L288.95,225.74 L289.34,225.74 L289.74,225.75 L290.13,225.75 L290.53,225.76 L290.92,225.76 L291.31,225.77 L291.71,225.77 L292.10,225.78 L292.50,225.78 L292.89,225.79 L293.29,225.80 L293.68,225.80 L294.08,225.81 L294.47,225.82 L294.87,225.83 L295.26,225.84 L295.66,225.85 L296.05,225.86 L296.45,225.87 L296.84,225.88 L297.24,225.89 L297.63,225.90 L298.03,225.91 L298.42,225.92 L298.82,225.93 L299.21,225.94 L299.61,225.96 L300.00,225.97 L300.40,225.98 L300.79,225.99 L301.19,226.01 L301.58,226.02 L301.98,226.03 L302.37,226.05 L302.77,226.06 L303.16,226.07 L303.56,226.09 L303.95,226.10 L304.35,226.12 L304.74,226.13 L305.13,226.14 L305.53,226.16 L305.92,226.17 L306.32,226.19 L306.71,226.20 L307.11,226.22 L307.50,226.23 L307.90,226.25 L308.29,226.26 L308.69,226.28 L309.08,226.29 L309.48,226.31 L309.87,226.32 L310.27,226.34 L310.66,226.35 L311.05,226.37 L311.45,226.38 L311.84,226.40 L312.24,226.41 L312.63,226.43 L313.03,226.44 L313.42,226.46 L313.82,226.47 L314.21,226.49 L314.60,226.50 L315.00,226.52 L315.39,226.53 L315.79,226.54 L316.18,226.56 L316.58,226.57 L316.97,226.59 L317.36,226.60 L317.76,226.61 L318.15,226.63 L318.55,226.64 L318.94,226.65 L319.33,226.66 L319.73,226.68 L320.12,226.69 L320.52,226.70 L320.91,226.71 L321.30,226.72 L321.70,226.74 L322.09,226.75 L322.48,226.76 L322.88,226.77 L323.27,226.78 L323.67,226.79 L324.06,226.80 L324.45,226.81 L324.85,226.81 L325.24,226.82 L325.63,226.83 L326.03,226.84 L326.42,226.84 L326.81,226.85 L327.21,226.86 L327.60,226.86 L327.99,226.87 L328.39,226.88 L328.78,226.88 L329.17,226.88 L329.56,226.89 L329.96,226.89 L330.35,226.90 L330.74,226.90 L331.14,226.90 L331.53,226.90 L331.92,226.90 L332.31,226.90 L332.71,226.90 L333.10,226.90 L333.49,226.90 L333.88,226.90 L334.28,226.90 L334.67,226.90 L335.06,226.89 L335.45,226.89 L335.85,226.88 L336.24,226.88 L336.63,226.87 L337.02,226.87 L337.41,226.86 L337.81,226.85 L338.20,226.84 L338.59,226.84 L338.98,226.83 L339.37,226.82 L339.76,226.81 L340.16,226.79 L340.55,226.78 L340.94,226.77 L341.33,226.76 L341.72,226.74 L342.11,226.73 L342.50,226.71 L342.90,226.69 L343.29,226.68 L343.68,226.66 L344.07,226.64 L344.46,226.62 L344.85,226.60 L345.24,226.58 L345.63,226.56 L346.02,226.53 L346.41,226.51 L346.80,226.49 L347.19,226.46 L347.58,226.43 L347.98,226.41 L348.37,226.38 L348.76,226.35 L349.15,226.32 L349.54,226.29 L349.93,226.26 L350.32,226.23 L350.71,226.19 L351.10,226.16 L351.48,226.12 L351.87,226.09" stroke="#ffff00" stroke-width="1.15"/>
<path d="M224.28,268.13 L224.38,267.75 L224.48,267.37 L224.58,266.99 L224.69,266.61 L224.80,266.24 L224.91,265.86 L225.02,265.49 L225.14,265.12 L225.26,264.75 L225.38,264.39 L225.50,264.02 L225.63,263.66 L225.76,263.30 L225.89,262.94 L226.02,262.58 L226.16,262.22 L226.30,261.87 L226.44,261.52 L226.58,261.16 L226.73,260.81 L226.88,260.47 L227.03,260.12 L227.18,259.78 L227.34,259.43 L227.49,259.09 L227.65,258.75 L227.82,258.42 L227.98,258.08 L228.15,257.75 L228.32,257.42 L228.49,257.09 L228.67,256.76 L228.84,256.43 L229.02,256.11 L229.20,255.78 L229.38,255.46 L229.57,255.14 L229.76,254.82 L229.95,254.51 L230.14,254.19 L230.33,253.88 L230.53,253.57 L230.73,253.26 L230.93,252.95 L231.13,252.65 L231.33,252.34 L231.54,252.04 L231.75,251.74 L231.96,251.44 L232.17,251.15 L232.39,250.85 L232.60,250.56 L232.82,250.27 L233.04,249.98 L233.26,249.69 L233.49,249.40 L233.71,249.12 L233.94,248.84 L234.17,248.55 L234.40,248.28 L234.64,248.00 L234.87,247.72 L235.11,247.45 L235.35,247.18 L235.59,246.91 L235.83,246.64 L236.08,246.37 L236.32,246.11 L236.57,245.84 L236.82,245.58 L237.07,245.32 L237.32,245.07 L237.58,244.81 L237.84,244.56 L238.09,244.30 L238.35,244.05 L238.62,243.81 L238.88,243.56 L239.14,243.31 L239.41,243.07 L239.68,242.83 L239.95,242.59 L240.22,242.35 L240.49,242.12 L240.76,241.88 L241.04,241.65 L241.32,241.42 L241.60,241.19 L241.88,240.96 L242.16,240.74 L242.44,240.51 L242.72,240.29 L243.01,240.07 L243.30,239.86 L243.59,239.64 L243.88,239.43 L244.17,239.21 L244.46,239.00 L244.75,238.79 L245.05,238.59 L245.35,238.38 L245.64,238.18 L245.94,237.98 L246.24,237.78 L246.55,237.58 L246.85,237.38 L247.15,237.19 L247.46,237.00 L247.76,236.81 L248.07,236.62 L248.38,236.43 L248.69,236.25 L249.00,236.06 L249.31,235.88 L249.63,235.70 L249.94,235.52 L250.26,235.35 L250.57,235.17 L250.89,235.00 L251.21,234.83 L251.53,234.66 L251.85,234.50 L252.17,234.33 L252.50,234.17 L252.82,234.01 L253.14,233.85 L253.47,233.69 L253.80,233.54 L254.12,233.38 L254.45,233.23 L254.78,233.08 L255.11,232.93 L255.44,232.79 L255.77,232.64 L256.11,232.50 L256.44,232.36 L256.78,232.22 L257.11,232.08 L257.45,231.95 L257.78,231.81 L258.12,231.68 L258.46,231.55 L258.80,231.43 L259.14,231.30 L259.48,231.18 L259.82,231.05 L260.16,230.93 L260.50,230.81 L260.85,230.70 L261.19,230.58 L261.53,230.47 L261.88,230.36 L262.22,230.25 L262.57,230.14 L262.92,230.03 L263.26,229.93 L263.61,229.82 L263.96,229.72 L264.31,229.62 L264.66,229.52 L265.01,229.43 L265.36,229.33 L265.71,229.24 L266.06,229.14 L266.42,229.05 L266.77,228.97 L267.12,228.88 L267.48,228.79 L267.83,228.71 L268.19,228.63 L268.54,228.54 L268.90,228.46 L269.25,228.39 L269.61,228.31 L269.96,228.23 L270.32,228.16 L270.68,228.09 L271.04,228.02 L271.39,227.95 L271.75,227.88 L272.11,227.81 L272.47,227.75 L272.83,227.68 L273.19,227.62 L273.55,227.56 L273.91,227.50 L274.27,227.44 L274.63,227.38 L274.99,227.33 L275.35,227.27 L275.71,227.22 L276.08,227.17 L276.44,227.11 L276.80,227.07 L277.16,227.02 L277.52,226.97 L277.89,226.92 L278.25,226.88 L278.61,226.84 L278.98,226.79 L279.34,226.75 L279.70,226.71 L280.07,226.67 L280.43,226.63 L280.79,226.60 L281.16,226.56 L281.52,226.53 L281.89,226.49 L282.25,226.46 L282.62,226.43 L282.98,226.40 L283.35,226.37 L283.71,226.34 L284.08,226.32 L284.44,226.29 L284.81,226.26 L285.17,226.24 L285.54,226.22 L285.91,226.19 L286.27,226.17 L286.64,226.15 L287.01,226.13 L287.37,226.11 L287.74,226.10 L288.11,226.08 L288.47,226.06 L288.84,226.05 L289.21,226.03 L289.57,226.02 L289.94,226.01 L290.31,226.00 L290.68,225.99 L291.05,225.98 L291.41,225.97 L291.78,225.96 L292.15,225.95 L292.52,225.94 L292.89,225.94 L293.26,225.93 L293.62,225.93 L293.99,225.92 L294.36,225.92 L294.73,225.91 L295.10,225.91 L295.47,225.91 L295.84,225.91 L296.21,225.91 L296.58,225.91 L296.94,225.91 L297.31,225.91 L297.68,225.91 L298.05,225.92 L298.42,225.92 L298.79,225.92 L299.16,225.93 L299.53,225.93 L299.90,225.94 L300.27,225.94 L300.64,225.95 L301.01,225.96 L301.38,225.96 L301.75,225.97 L302.12,225.98 L302.49,225.99 L302.86,226.00 L303.23,226.01 L303.60,226.02 L303.97,226.03 L304.34,226.04 L304.71,226.05 L305.08,226.06 L305.45,226.07 L305.82,226.08 L306.19,226.09 L306.56,226.11 L306.94,226.12 L307.31,226.13 L307.68,226.14 L308.05,226.16 L308.42,226.17 L308.79,226.19 L309.16,226.20 L309.53,226.21 L309.90,226.23 L310.27,226.24 L310.64,226.26 L311.01,226.27 L311.38,226.29 L311.75,226.30 L312.12,226.32 L312.49,226.33 L312.86,226.35 L313.23,226.37 L313.60,226.38 L313.97,226.40 L314.34,226.41 L314.71,226.43 L315.08,226.45 L315.45,226.46 L315.82,226.48 L316.19,226.49 L316.56,226.51 L316.93,226.53 L317.30,226.54 L317.67,226.56 L318.04,226.57 L318.41,226.59 L318.78,226.60 L319.15,226.62 L319.52,226.64 L319.89,226.65 L320.26,226.67 L320.63,226.68 L321.00,226.70 L321.37,226.71 L321.73,226.73 L322.10,226.74 L322.47,226.75 L322.84,226.77 L323.21,226.78 L323.58,226.79 L323.95,226.81 L324.31,226.82 L324.68,226.83 L325.05,226.85 L325.42,226.86 L325.79,226.87 L326.15,226.88 L326.52,226.89 L326.89,226.90 L327.26,226.91 L327.62,226.92 L327.99,226.93 L328.36,226.94 L328.73,226.95 L329.09,226.96 L329.46,226.97 L329.83,226.97 L330.19,226.98 L330.56,226.99 L330.92,226.99 L331.29,227.00 L331.66,227.01 L332.02,227.01 L332.39,227.01 L332.75,227.02 L333.12,227.02 L333.48,227.02 L333.85,227.02 L334.21,227.03 L334.58,227.03 L334.94,227.03 L335.31,227.03 L335.67,227.03 L336.04,227.02 L336.40,227.02 L336.76,227.02 L337.13,227.01 L337.49,227.01 L337.85,227.00 L338.22,227.00 L338.58,226.99 L338.94,226.98 L339.30,226.98 L339.67,226.97 L340.03,226.96 L340.39,226.95 L340.75,226.94 L341.11,226.92 L341.47,226.91 L341.83,226.90 L342.20,226.88 L342.56,226.87 L342.92,226.85 L343.28,226.84 L343.64,226.82 L344.00,226.80 L344.36,226.78 L344.71,226.76 L345.07,226.74 L345.43,226.71 L345.79,226.69 L346.15,226.67 L346.51,226.64 L346.87,226.61 L347.22,226.59 L347.58,226.56 L347.94,226.53 L348.29,226.50 L348.65,226.47 L349.01,226.43 L349.36,226.40 L349.72,226.37 L350.07,226.33 L350.43,226.29 L350.79,226.25 L351.14,226.22 L351.49,226.17 L351.85,226.13" stroke="#800080" stroke-width="1.15"/>
<path d="M230.02,267.77 L230.18,267.48 L230.35,267.19 L230.52,266.90 L230.68,266.61 L230.84,266.31 L231.00,266.02 L231.16,265.72 L231.32,265.42 L231.48,265.11 L231.63,264.81 L231.79,264.51 L231.94,264.20 L232.10,263.89 L232.25,263.58 L232.41,263.27 L232.56,262.96 L232.71,262.65 L232.86,262.33 L233.02,262.02 L233.17,261.71 L233.32,261.39 L233.47,261.07 L233.62,260.76 L233.78,260.44 L233.93,260.12 L234.08,259.80 L234.24,259.48 L234.39,259.17 L234.54,258.85 L234.70,258.53 L234.85,258.21 L235.01,257.89 L235.17,257.57 L235.32,257.26 L235.48,256.94 L235.64,256.62 L235.80,256.31 L235.97,255.99 L236.13,255.68 L236.29,255.36 L236.46,255.05 L236.63,254.74 L236.80,254.43 L236.97,254.12 L237.14,253.81 L237.32,253.50 L237.49,253.19 L237.67,252.89 L237.85,252.59 L238.03,252.28 L238.22,251.98 L238.40,251.69 L238.59,251.39 L238.78,251.10 L238.98,250.80 L239.17,250.51 L239.37,250.22 L239.57,249.94 L239.78,249.66 L239.99,249.37 L240.19,249.09 L240.41,248.82 L240.62,248.54 L240.84,248.27 L241.06,248.00 L241.28,247.73 L241.50,247.47 L241.73,247.20 L241.96,246.94 L242.19,246.68 L242.43,246.42 L242.66,246.17 L242.90,245.92 L243.14,245.67 L243.38,245.42 L243.63,245.17 L243.87,244.93 L244.12,244.68 L244.37,244.44 L244.63,244.20 L244.88,243.97 L245.14,243.73 L245.40,243.50 L245.66,243.27 L245.92,243.04 L246.19,242.82 L246.45,242.59 L246.72,242.37 L246.99,242.15 L247.26,241.93 L247.53,241.72 L247.81,241.50 L248.08,241.29 L248.36,241.08 L248.64,240.87 L248.92,240.67 L249.20,240.46 L249.49,240.26 L249.77,240.06 L250.06,239.86 L250.35,239.67 L250.64,239.47 L250.93,239.28 L251.22,239.09 L251.51,238.90 L251.81,238.71 L252.10,238.53 L252.40,238.34 L252.70,238.16 L252.99,237.98 L253.29,237.80 L253.59,237.63 L253.90,237.45 L254.20,237.28 L254.50,237.11 L254.81,236.94 L255.11,236.77 L255.42,236.61 L255.73,236.44 L256.03,236.28 L256.34,236.12 L256.65,235.96 L256.96,235.81 L257.27,235.65 L257.58,235.50 L257.89,235.35 L258.21,235.20 L258.52,235.05 L258.83,234.90 L259.15,234.76 L259.46,234.61 L259.78,234.47 L260.09,234.33 L260.41,234.19 L260.72,234.06 L261.04,233.92 L261.36,233.79 L261.68,233.66 L262.00,233.53 L262.31,233.40 L262.63,233.27 L262.96,233.15 L263.28,233.02 L263.60,232.90 L263.92,232.78 L264.24,232.66 L264.56,232.54 L264.89,232.42 L265.21,232.31 L265.54,232.19 L265.86,232.08 L266.19,231.97 L266.51,231.86 L266.84,231.75 L267.17,231.65 L267.49,231.54 L267.82,231.44 L268.15,231.34 L268.48,231.24 L268.81,231.14 L269.14,231.04 L269.47,230.94 L269.80,230.85 L270.13,230.75 L270.46,230.66 L270.79,230.57 L271.12,230.48 L271.45,230.39 L271.79,230.30 L272.12,230.22 L272.45,230.13 L272.79,230.05 L273.12,229.97 L273.46,229.89 L273.79,229.81 L274.13,229.73 L274.47,229.65 L274.80,229.58 L275.14,229.50 L275.48,229.43 L275.81,229.36 L276.15,229.28 L276.49,229.21 L276.83,229.15 L277.17,229.08 L277.51,229.01 L277.85,228.95 L278.19,228.88 L278.53,228.82 L278.87,228.76 L279.21,228.70 L279.55,228.64 L279.89,228.58 L280.24,228.52 L280.58,228.46 L280.92,228.41 L281.26,228.35 L281.61,228.30 L281.95,228.25 L282.30,228.20 L282.64,228.15 L282.98,228.10 L283.33,228.05 L283.68,228.00 L284.02,227.95 L284.37,227.91 L284.71,227.86 L285.06,227.82 L285.41,227.78 L285.75,227.74 L286.10,227.70 L286.45,227.66 L286.79,227.62 L287.14,227.58 L287.49,227.54 L287.84,227.51 L288.19,227.47 L288.54,227.44 L288.89,227.40 L289.24,227.37 L289.58,227.34 L289.93,227.31 L290.28,227.28 L290.63,227.25 L290.99,227.22 L291.34,227.19 L291.69,227.16 L292.04,227.14 L292.39,227.11 L292.74,227.09 L293.09,227.06 L293.44,227.04 L293.80,227.02 L294.15,226.99 L294.50,226.97 L294.85,226.95 L295.21,226.93 L295.56,226.91 L295.91,226.89 L296.26,226.88 L296.62,226.86 L296.97,226.84 L297.32,226.83 L297.68,226.81 L298.03,226.80 L298.39,226.78 L298.74,226.77 L299.09,226.75 L299.45,226.74 L299.80,226.73 L300.16,226.72 L300.51,226.71 L300.87,226.70 L301.22,226.69 L301.58,226.68 L301.93,226.67 L302.29,226.66 L302.64,226.65 L303.00,226.65 L303.35,226.64 L303.71,226.63 L304.06,226.63 L304.42,226.62 L304.78,226.62 L305.13,226.61 L305.49,226.61 L305.84,226.61 L306.20,226.60 L306.56,226.60 L306.91,226.60 L307.27,226.59 L307.62,226.59 L307.98,226.59 L308.34,226.59 L308.69,226.59 L309.05,226.59 L309.40,226.59 L309.76,226.59 L310.12,226.59 L310.47,226.59 L310.83,226.59 L311.19,226.59 L311.54,226.59 L311.90,226.60 L312.25,226.60 L312.61,226.60 L312.97,226.60 L313.32,226.61 L313.68,226.61 L314.04,226.61 L314.39,226.62 L314.75,226.62 L315.10,226.62 L315.46,226.63 L315.82,226.63 L316.17,226.64 L316.53,226.64 L316.88,226.64 L317.24,226.65 L317.59,226.65 L317.95,226.66 L318.30,226.66 L318.66,226.67 L319.02,226.67 L319.37,226.68 L319.73,226.68 L320.08,226.69 L320.44,226.69 L320.79,226.70 L321.14,226.71 L321.50,226.71 L321.85,226.72 L322.21,226.72 L322.56,226.73 L322.92,226.73 L323.27,226.74 L323.62,226.74 L323.98,226.75 L324.33,226.75 L324.69,226.76 L325.04,226.76 L325.39,226.77 L325.74,226.77 L326.10,226.78 L326.45,226.78 L326.80,226.78 L327.15,226.79 L327.51,226.79 L327.86,226.80 L328.21,226.80 L328.56,226.80 L328.91,226.81 L329.26,226.81 L329.62,226.81 L329.97,226.82 L330.32,226.82 L330.67,226.82 L331.02,226.82 L331.37,226.83 L331.72,226.83 L332.07,226.83 L332.42,226.83 L332.77,226.83 L333.11,226.83 L333.46,226.83 L333.81,226.83 L334.16,226.83 L334.51,226.83 L334.86,226.83 L335.20,226.83 L335.55,226.82 L335.90,226.82 L336.24,226.82 L336.59,226.82 L336.94,226.81 L337.28,226.81 L337.63,226.81 L337.97,226.80 L338.32,226.80 L338.66,226.79 L339.01,226.78 L339.35,226.78 L339.69,226.77 L340.04,226.76 L340.38,226.76 L340.72,226.75 L341.07,226.74 L341.41,226.73 L341.75,226.72 L342.09,226.71 L342.43,226.70 L342.77,226.69 L343.11,226.67 L343.45,226.66 L343.79,226.65 L344.13,226.63 L344.47,226.62 L344.81,226.61 L345.15,226.59 L345.49,226.57 L345.83,226.56 L346.16,226.54 L346.50,226.52 L346.84,226.50 L347.17,226.48 L347.51,226.46 L347.84,226.44 L348.18,226.42 L348.51,226.40 L348.85,226.38 L349.18,226.35 L349.51,226.33 L349.85,226.30 L350.18,226.28 L350.51,226.25 L350.84,226.22 L351.17,226.19 L351.51,226.17 L351.84,226.14" stroke="#ff8000" stroke-width="1.15"/>
<path d="M234.05,268.16 L234.15,267.81 L234.25,267.47 L234.36,267.12 L234.47,266.78 L234.58,266.43 L234.69,266.09 L234.81,265.75 L234.92,265.41 L235.04,265.08 L235.16,264.74 L235.29,264.41 L235.41,264.07 L235.54,263.74 L235.67,263.41 L235.81,263.08 L235.94,262.75 L236.08,262.43 L236.22,262.10 L236.36,261.78 L236.50,261.46 L236.64,261.14 L236.79,260.82 L236.94,260.50 L237.09,260.19 L237.24,259.87 L237.40,259.56 L237.56,259.25 L237.71,258.94 L237.88,258.63 L238.04,258.32 L238.20,258.02 L238.37,257.71 L238.54,257.41 L238.71,257.11 L238.88,256.81 L239.05,256.51 L239.23,256.21 L239.41,255.92 L239.59,255.63 L239.77,255.33 L239.95,255.04 L240.14,254.75 L240.32,254.46 L240.51,254.18 L240.70,253.89 L240.89,253.61 L241.09,253.33 L241.28,253.05 L241.48,252.77 L241.68,252.49 L241.88,252.22 L242.08,251.94 L242.29,251.67 L242.49,251.40 L242.70,251.13 L242.91,250.86 L243.12,250.59 L243.33,250.33 L243.54,250.07 L243.76,249.80 L243.97,249.54 L244.19,249.28 L244.41,249.03 L244.63,248.77 L244.85,248.52 L245.08,248.27 L245.30,248.01 L245.53,247.77 L245.76,247.52 L245.99,247.27 L246.22,247.03 L246.45,246.78 L246.69,246.54 L246.92,246.30 L247.16,246.06 L247.40,245.83 L247.64,245.59 L247.88,245.36 L248.12,245.13 L248.36,244.90 L248.61,244.67 L248.85,244.44 L249.10,244.21 L249.35,243.99 L249.60,243.77 L249.85,243.55 L250.10,243.33 L250.36,243.11 L250.61,242.89 L250.87,242.68 L251.13,242.47 L251.39,242.26 L251.64,242.05 L251.91,241.84 L252.17,241.63 L252.43,241.43 L252.69,241.23 L252.96,241.03 L253.23,240.83 L253.49,240.63 L253.76,240.43 L254.03,240.24 L254.30,240.05 L254.57,239.85 L254.85,239.67 L255.12,239.48 L255.40,239.29 L255.67,239.11 L255.95,238.92 L256.22,238.74 L256.50,238.56 L256.78,238.39 L257.06,238.21 L257.34,238.04 L257.63,237.86 L257.91,237.69 L258.19,237.52 L258.48,237.36 L258.76,237.19 L259.05,237.03 L259.34,236.86 L259.63,236.70 L259.91,236.54 L260.20,236.39 L260.49,236.23 L260.79,236.08 L261.08,235.92 L261.37,235.77 L261.67,235.62 L261.96,235.48 L262.26,235.33 L262.55,235.19 L262.85,235.04 L263.15,234.90 L263.45,234.76 L263.74,234.62 L264.04,234.48 L264.35,234.35 L264.65,234.22 L264.95,234.08 L265.25,233.95 L265.56,233.82 L265.86,233.69 L266.17,233.57 L266.47,233.44 L266.78,233.32 L267.09,233.20 L267.40,233.08 L267.70,232.96 L268.01,232.84 L268.32,232.72 L268.64,232.61 L268.95,232.49 L269.26,232.38 L269.57,232.27 L269.89,232.16 L270.20,232.05 L270.51,231.95 L270.83,231.84 L271.15,231.74 L271.46,231.63 L271.78,231.53 L272.10,231.43 L272.42,231.33 L272.74,231.24 L273.06,231.14 L273.38,231.05 L273.70,230.95 L274.02,230.86 L274.34,230.77 L274.66,230.68 L274.99,230.59 L275.31,230.50 L275.63,230.42 L275.96,230.33 L276.29,230.25 L276.61,230.17 L276.94,230.08 L277.26,230.00 L277.59,229.92 L277.92,229.85 L278.25,229.77 L278.58,229.69 L278.91,229.62 L279.24,229.55 L279.57,229.47 L279.90,229.40 L280.23,229.33 L280.56,229.26 L280.90,229.20 L281.23,229.13 L281.56,229.07 L281.90,229.00 L282.23,228.94 L282.56,228.87 L282.90,228.81 L283.24,228.75 L283.57,228.69 L283.91,228.64 L284.24,228.58 L284.58,228.52 L284.92,228.47 L285.26,228.41 L285.60,228.36 L285.93,228.31 L286.27,228.26 L286.61,228.20 L286.95,228.16 L287.29,228.11 L287.63,228.06 L287.97,228.01 L288.31,227.97 L288.66,227.92 L289.00,227.88 L289.34,227.83 L289.68,227.79 L290.03,227.75 L290.37,227.71 L290.71,227.67 L291.06,227.63 L291.40,227.59 L291.74,227.56 L292.09,227.52 L292.43,227.48 L292.78,227.45 L293.12,227.42 L293.47,227.38 L293.82,227.35 L294.16,227.32 L294.51,227.29 L294.85,227.26 L295.20,227.23 L295.55,227.20 L295.90,227.17 L296.24,227.14 L296.59,227.12 L296.94,227.09 L297.29,227.07 L297.63,227.04 L297.98,227.02 L298.33,227.00 L298.68,226.97 L299.03,226.95 L299.38,226.93 L299.73,226.91 L300.08,226.89 L300.43,226.87 L300.78,226.85 L301.12,226.84 L301.47,226.82 L301.82,226.80 L302.17,226.78 L302.52,226.77 L302.88,226.75 L303.23,226.74 L303.58,226.73 L303.93,226.71 L304.28,226.70 L304.63,226.69 L304.98,226.68 L305.33,226.66 L305.68,226.65 L306.03,226.64 L306.38,226.63 L306.73,226.62 L307.08,226.61 L307.44,226.61 L307.79,226.60 L308.14,226.59 L308.49,226.58 L308.84,226.58 L309.19,226.57 L309.54,226.56 L309.89,226.56 L310.24,226.55 L310.60,226.55 L310.95,226.54 L311.30,226.54 L311.65,226.54 L312.00,226.53 L312.35,226.53 L312.70,226.53 L313.05,226.52 L313.40,226.52 L313.75,226.52 L314.10,226.52 L314.45,226.52 L314.80,226.52 L315.15,226.52 L315.50,226.52 L315.85,226.52 L316.20,226.52 L316.55,226.52 L316.90,226.52 L317.25,226.52 L317.60,226.52 L317.95,226.52 L318.30,226.52 L318.65,226.52 L319.00,226.53 L319.35,226.53 L319.70,226.53 L320.04,226.53 L320.39,226.54 L320.74,226.54 L321.09,226.54 L321.44,226.54 L321.78,226.55 L322.13,226.55 L322.48,226.55 L322.82,226.56 L323.17,226.56 L323.52,226.56 L323.86,226.57 L324.21,226.57 L324.55,226.57 L324.90,226.58 L325.24,226.58 L325.59,226.59 L325.93,226.59 L326.28,226.59 L326.62,226.60 L326.96,226.60 L327.31,226.60 L327.65,226.61 L327.99,226.61 L328.34,226.62 L328.68,226.62 L329.02,226.62 L329.36,226.63 L329.70,226.63 L330.04,226.63 L330.38,226.64 L330.72,226.64 L331.06,226.64 L331.40,226.65 L331.74,226.65 L332.08,226.65 L332.42,226.65 L332.76,226.66 L333.09,226.66 L333.43,226.66 L333.77,226.66 L334.10,226.66 L334.44,226.67 L334.77,226.67 L335.11,226.67 L335.44,226.67 L335.78,226.67 L336.11,226.67 L336.44,226.67 L336.78,226.67 L337.11,226.67 L337.44,226.67 L337.77,226.67 L338.10,226.67 L338.43,226.67 L338.76,226.66 L339.09,226.66 L339.42,226.66 L339.75,226.66 L340.08,226.65 L340.41,226.65 L340.73,226.65 L341.06,226.64 L341.38,226.64 L341.71,226.63 L342.03,226.63 L342.36,226.62 L342.68,226.62 L343.00,226.61 L343.33,226.60 L343.65,226.60 L343.97,226.59 L344.29,226.58 L344.61,226.57 L344.93,226.56 L345.25,226.56 L345.57,226.55 L345.89,226.54 L346.20,226.52 L346.52,226.51 L346.84,226.50 L347.15,226.49 L347.47,226.48 L347.78,226.46 L348.09,226.45 L348.40,226.43 L348.72,226.42 L349.03,226.40 L349.34,226.39 L349.65,226.37 L349.96,226.35 L350.27,226.34 L350.57,226.32 L350.88,226.30 L351.19,226.28 L351.49,226.26 L351.80,226.24" stroke="#ff0000" stroke-dasharray="3 1.1 1.5 1.1" stroke-dashoffset="4.6" stroke-width="1"/>
<path d="M163.65,-0.07 L163.70,0.85 L163.76,1.77 L163.81,2.69 L163.87,3.61 L163.93,4.53 L163.99,5.45 L164.04,6.36 L164.10,7.28 L164.16,8.20 L164.22,9.11 L164.28,10.03 L164.35,10.94 L164.41,11.86 L164.47,12.77 L164.53,13.69 L164.60,14.60 L164.66,15.51 L164.73,16.43 L164.80,17.34 L164.86,18.25 L164.93,19.16 L165.00,20.07 L165.07,20.99 L165.14,21.90 L165.21,22.81 L165.28,23.72 L165.35,24.63 L165.42,25.53 L165.50,26.44 L165.57,27.35 L165.64,28.26 L165.72,29.17 L165.79,30.07 L165.87,30.98 L165.95,31.89 L166.03,32.79 L166.10,33.70 L166.18,34.61 L166.26,35.51 L166.34,36.42 L166.42,37.32 L166.51,38.23 L166.59,39.13 L166.67,40.03 L166.76,40.94 L166.84,41.84 L166.93,42.75 L167.01,43.65 L167.10,44.55 L167.19,45.45 L167.27,46.36 L167.36,47.26 L167.45,48.16 L167.54,49.06 L167.63,49.96 L167.73,50.86 L167.82,51.76 L167.91,52.66 L168.01,53.57 L168.10,54.47 L168.19,55.37 L168.29,56.27 L168.39,57.17 L168.48,58.06 L168.58,58.96 L168.68,59.86 L168.78,60.76 L168.88,61.66 L168.98,62.56 L169.08,63.46 L169.19,64.36 L169.29,65.26 L169.39,66.15 L169.50,67.05 L169.60,67.95 L169.71,68.85 L169.82,69.74 L169.92,70.64 L170.03,71.54 L170.14,72.44 L170.25,73.33 L170.36,74.23 L170.47,75.13 L170.59,76.03 L170.70,76.92 L170.81,77.82 L170.93,78.72 L171.04,79.61 L171.16,80.51 L171.27,81.41 L171.39,82.30 L171.51,83.20 L171.63,84.10 L171.75,84.99 L171.87,85.89 L171.99,86.78 L172.11,87.68 L172.23,88.58 L172.36,89.47 L172.48,90.37 L172.61,91.27 L172.73,92.16 L172.86,93.06 L172.99,93.96 L173.11,94.85 L173.24,95.75 L173.37,96.64 L173.50,97.54 L173.63,98.44 L173.77,99.33 L173.90,100.23 L174.03,101.13 L174.17,102.02 L174.30,102.92 L174.44,103.82 L174.57,104.71 L174.71,105.61 L174.85,106.51 L174.99,107.41 L175.13,108.30 L175.27,109.20 L175.41,110.10 L175.55,111.00 L175.70,111.89 L175.84,112.79 L175.98,113.69 L176.13,114.59 L176.28,115.49 L176.42,116.38 L176.57,117.28 L176.72,118.18 L176.87,119.08 L177.02,119.98 L177.17,120.88 L177.32,121.78 L177.47,122.68 L177.63,123.58 L177.78,124.48 L177.94,125.38 L178.09,126.28 L178.25,127.18 L178.41,128.08 L178.56,128.98 L178.72,129.88 L178.88,130.78 L179.05,131.68 L179.21,132.58 L179.37,133.48 L179.54,134.39 L179.70,135.29 L179.87,136.19 L180.04,137.09 L180.21,137.99 L180.38,138.89 L180.55,139.79 L180.73,140.69 L180.91,141.59 L181.09,142.49 L181.27,143.39 L181.45,144.29 L181.64,145.19 L181.83,146.08 L182.02,146.98 L182.21,147.87 L182.41,148.77 L182.61,149.66 L182.81,150.56 L183.01,151.45 L183.22,152.34 L183.43,153.23 L183.65,154.12 L183.86,155.01 L184.08,155.90 L184.31,156.79 L184.53,157.67 L184.76,158.56 L185.00,159.44 L185.23,160.32 L185.47,161.20 L185.72,162.08 L185.97,162.96 L186.22,163.83 L186.48,164.71 L186.74,165.58 L187.01,166.45 L187.28,167.32 L187.55,168.19 L187.83,169.06 L188.11,169.92 L188.40,170.78 L188.70,171.64 L188.99,172.50 L189.30,173.36 L189.60,174.21 L189.92,175.07 L190.24,175.92 L190.56,176.77 L190.89,177.61 L191.22,178.46 L191.56,179.30 L191.91,180.14 L192.26,180.98 L192.62,181.81 L192.98,182.64 L193.35,183.47 L193.72,184.30 L194.10,185.13 L194.49,185.95 L194.89,186.77 L195.29,187.58 L195.69,188.40 L196.11,189.21 L196.53,190.02 L196.95,190.82 L197.39,191.62 L197.83,192.41 L198.28,193.20 L198.73,193.98 L199.20,194.76 L199.67,195.53 L200.15,196.30 L200.64,197.06 L201.14,197.81 L201.64,198.56 L202.16,199.30 L202.68,200.03 L203.21,200.75 L203.76,201.46 L204.31,202.16 L204.87,202.86 L205.44,203.54 L206.02,204.22 L206.61,204.89 L207.21,205.54 L207.82,206.18 L208.45,206.82 L209.08,207.44 L209.72,208.05 L210.37,208.65 L211.03,209.24 L211.70,209.82 L212.38,210.39 L213.06,210.95 L213.76,211.49 L214.46,212.03 L215.18,212.55 L215.90,213.06 L216.63,213.56 L217.37,214.05 L218.11,214.53 L218.87,214.99 L219.63,215.45 L220.40,215.89 L221.18,216.32 L221.96,216.74 L222.75,217.14 L223.55,217.54 L224.36,217.92 L225.17,218.29 L225.99,218.65 L226.81,218.99 L227.64,219.32 L228.48,219.64 L229.32,219.95 L230.17,220.25 L231.02,220.54 L231.88,220.82 L232.75,221.08 L233.62,221.34 L234.49,221.58 L235.37,221.82 L236.25,222.05 L237.14,222.26 L238.03,222.47 L238.93,222.67 L239.82,222.86 L240.73,223.04 L241.63,223.21 L242.54,223.38 L243.45,223.54 L244.36,223.69 L245.28,223.83 L246.20,223.97 L247.12,224.09 L248.04,224.22 L248.96,224.33 L249.89,224.44 L250.82,224.55 L251.74,224.65 L252.67,224.74 L253.60,224.83 L254.53,224.91 L255.46,224.99 L256.39,225.07 L257.32,225.14 L258.25,225.20 L259.18,225.27 L260.11,225.33 L261.04,225.38 L261.97,225.43 L262.90,225.49 L263.82,225.53 L264.75,225.58 L265.67,225.62 L266.59,225.66 L267.51,225.70 L268.43,225.74 L269.35,225.77 L270.27,225.80 L271.18,225.83 L272.10,225.86 L273.01,225.89 L273.93,225.91 L274.84,225.93 L275.75,225.95 L276.66,225.97 L277.57,225.99 L278.48,226.00 L279.38,226.02 L280.29,226.03 L281.20,226.04 L282.10,226.05 L283.01,226.06 L283.91,226.06 L284.81,226.07 L285.71,226.07 L286.62,226.07 L287.52,226.07 L288.42,226.07 L289.32,226.07 L290.22,226.07 L291.12,226.07 L292.02,226.06 L292.92,226.06 L293.81,226.05 L294.71,226.05 L295.61,226.04 L296.51,226.03 L297.40,226.02 L298.30,226.01 L299.20,226.00 L300.09,225.99 L300.99,225.98 L301.88,225.97 L302.78,225.96 L303.68,225.95 L304.57,225.94 L305.47,225.92 L306.37,225.91 L307.26,225.90 L308.16,225.89 L309.05,225.87 L309.95,225.86 L310.85,225.85 L311.74,225.84 L312.64,225.83 L313.54,225.81 L314.44,225.80 L315.34,225.79 L316.23,225.78 L317.13,225.77 L318.03,225.76 L318.93,225.75 L319.83,225.75 L320.73,225.74 L321.64,225.73 L322.54,225.72 L323.44,225.72 L324.34,225.72 L325.25,225.71 L326.15,225.71 L327.06,225.71 L327.96,225.71 L328.87,225.71 L329.78,225.71 L330.69,225.71 L331.60,225.72 L332.51,225.72 L333.42,225.73 L334.33,225.74 L335.24,225.75 L336.16,225.76 L337.07,225.77 L337.99,225.79 L338.90,225.80 L339.82,225.82 L340.74,225.84 L341.66,225.86 L342.59,225.88 L343.51,225.91 L344.43,225.94 L345.36,225.97 L346.29,226.00 L347.22,226.03 L348.15,226.07 L349.08,226.10 L350.01,226.14 L350.94,226.19 L351.88,226.23" stroke="#ff00ff" stroke-width="1.15"/>
<line x1="54.2" y1="226.2" x2="389.2" y2="226.2" stroke="#000" stroke-width="1.1"/>
</g>
<g stroke="#000" stroke-width="1.4" fill="none">
<line x1="54.2" y1="0" x2="54.2" y2="269.04999999999995" stroke-width="1.15"/>
<line x1="389.3" y1="0" x2="389.3" y2="269.04999999999995" stroke-width="1.1"/>
<line x1="53.63" y1="0.5" x2="390" y2="0.5" stroke-width="1.05"/>
<line x1="53.63" y1="268.4" x2="390" y2="268.4" stroke-width="1.3"/>
</g>
<g stroke="#000" stroke-width="1.1">
<line x1="104.50" y1="268.4" x2="104.50" y2="261.79999999999995"/>
<line x1="104.50" y1="0.4" x2="104.50" y2="7.0"/>
<line x1="154.92" y1="268.4" x2="154.92" y2="261.79999999999995"/>
<line x1="154.92" y1="0.4" x2="154.92" y2="7.0"/>
<line x1="221.58" y1="268.4" x2="221.58" y2="261.79999999999995"/>
<line x1="221.58" y1="0.4" x2="221.58" y2="7.0"/>
<line x1="272.00" y1="268.4" x2="272.00" y2="261.79999999999995"/>
<line x1="272.00" y1="0.4" x2="272.00" y2="7.0"/>
<line x1="322.42" y1="268.4" x2="322.42" y2="261.79999999999995"/>
<line x1="322.42" y1="0.4" x2="322.42" y2="7.0"/>
<line x1="54.2" y1="254.25" x2="61.0" y2="254.25"/>
<line x1="389.2" y1="254.25" x2="384.0" y2="254.25"/>
<line x1="54.2" y1="226.00" x2="61.0" y2="226.00"/>
<line x1="389.2" y1="226.00" x2="384.0" y2="226.00"/>
<line x1="54.2" y1="197.75" x2="61.0" y2="197.75"/>
<line x1="389.2" y1="197.75" x2="384.0" y2="197.75"/>
<line x1="54.2" y1="169.50" x2="61.0" y2="169.50"/>
<line x1="389.2" y1="169.50" x2="384.0" y2="169.50"/>
<line x1="54.2" y1="141.25" x2="61.0" y2="141.25"/>
<line x1="389.2" y1="141.25" x2="384.0" y2="141.25"/>
<line x1="54.2" y1="113.00" x2="61.0" y2="113.00"/>
<line x1="389.2" y1="113.00" x2="384.0" y2="113.00"/>
<line x1="54.2" y1="84.75" x2="61.0" y2="84.75"/>
<line x1="389.2" y1="84.75" x2="384.0" y2="84.75"/>
<line x1="54.2" y1="56.50" x2="61.0" y2="56.50"/>
<line x1="389.2" y1="56.50" x2="384.0" y2="56.50"/>
<line x1="54.2" y1="28.25" x2="61.0" y2="28.25"/>
<line x1="389.2" y1="28.25" x2="384.0" y2="28.25"/>
</g>
<line x1="257.8" y1="49.45" x2="278.6" y2="49.45" stroke="#ff0000" stroke-width="1.15"/>
<line x1="257.8" y1="64.31" x2="278.6" y2="64.31" stroke="#0000ff" stroke-width="1.15"/>
<line x1="257.8" y1="79.16" x2="278.6" y2="79.16" stroke="#00ff00" stroke-width="1.15"/>
<line x1="257.8" y1="94.02" x2="278.6" y2="94.02" stroke="#00ffff" stroke-width="1.15"/>
<line x1="257.8" y1="108.87" x2="278.6" y2="108.87" stroke="#ffff00" stroke-width="1.15"/>
<line x1="257.8" y1="123.73" x2="278.6" y2="123.73" stroke="#800080" stroke-width="1.15"/>
<line x1="257.8" y1="138.59" x2="278.6" y2="138.59" stroke="#ff8000" stroke-width="1.15"/>
<line x1="257.8" y1="153.44" x2="278.6" y2="153.44" stroke="#ff0000" stroke-dasharray="3 1.1 1.5 1.1" stroke-dashoffset="4.6" stroke-width="1"/>
<line x1="257.8" y1="167.84" x2="278.6" y2="167.84" stroke="#ff00ff" stroke-width="1.15"/>
</svg>
<div class="t yl" style="top:25.15px">7x10<sup>3</sup></div>
<div class="t yl" style="top:53.40px">6x10<sup>3</sup></div>
<div class="t yl" style="top:81.65px">5x10<sup>3</sup></div>
<div class="t yl" style="top:109.90px">4x10<sup>3</sup></div>
<div class="t yl" style="top:138.15px">3x10<sup>3</sup></div>
<div class="t yl" style="top:166.40px">2x10<sup>−3</sup></div>
<div class="t yl" style="top:194.65px">1x10<sup>−3</sup></div>
<div class="t yl" style="top:222.90px">0</div>
<div class="t yl" style="top:251.15px">−1x10<sup>3</sup></div>
<div class="t xl" style="left:104.50px">10</div>
<div class="t xl" style="left:154.92px">20</div>
<div class="t xl" style="left:221.58px">50</div>
<div class="t xl" style="left:272.00px">100</div>
<div class="t xl" style="left:322.42px">200</div>
<div class="t lg" style="top:43.15px"><i>δϵ</i><sup>n</sup>=−0.55</div>
<div class="t lg" style="top:58.01px"><i>δϵ</i><sup>n</sup>=−0.6556</div>
<div class="t lg" style="top:72.86px"><i>δϵ</i><sup>n</sup>=−0.7516</div>
<div class="t lg" style="top:87.72px"><i>δϵ</i><sup>n</sup>=−0.9436</div>
<div class="t lg" style="top:102.57px"><i>δϵ</i><sup>n</sup>=−1.2124</div>
<div class="t lg" style="top:117.43px"><i>δϵ</i><sup>n</sup>=−1.4428</div>
<div class="t lg" style="top:132.29px"><i>δϵ</i><sup>n</sup>=−1.6156</div>
<div class="t lg" style="top:147.14px"><i>δϵ</i><sup>n</sup> = −1.7265</div>
<div class="t lg" style="top:161.54px"><i>V</i><sub>ν</sub></div>
<div class="t ax" style="left:202.8px;top:285.4px;letter-spacing:0.15px">r [km]</div>
<div class="t ax" style="left:0;top:0;transform-origin:0 0;transform:translate(4.6px,184.7px) rotate(-90deg);letter-spacing:0.22px">Potential [km<sup>−1</sup>]</div>
</body></html>
